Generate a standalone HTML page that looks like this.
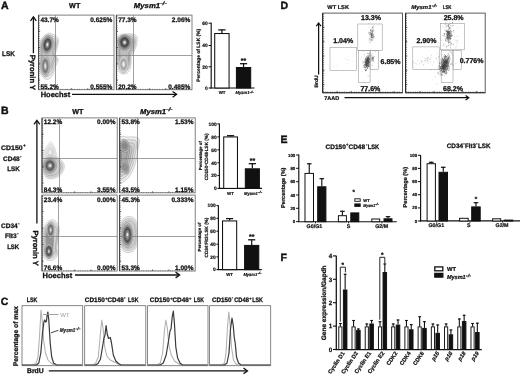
<!DOCTYPE html>
<html><head><meta charset="utf-8"><title>Figure</title>
<style>html,body{margin:0;padding:0;background:#fff}svg{display:block}</style></head><body>
<svg width="520" height="376" viewBox="0 0 520 376" font-family="Liberation Sans, sans-serif" text-rendering="geometricPrecision">
<defs>
<filter id="b0_5" x="-20%" y="-20%" width="140%" height="140%"><feGaussianBlur stdDeviation="0.5"/></filter>
<filter id="b0_3" x="-20%" y="-20%" width="140%" height="140%"><feGaussianBlur stdDeviation="0.3"/></filter>
<filter id="b0_8" x="-20%" y="-20%" width="140%" height="140%"><feGaussianBlur stdDeviation="0.8"/></filter>
</defs>
<rect x="0" y="0" width="520" height="376" fill="#fff"/>

<text x="1" y="8.9" font-size="10.5" font-weight="bold" text-anchor="start" fill="#111" stroke="#111" stroke-width="0.42" >A</text>
<text x="74.7" y="8.1" font-size="7.2" font-weight="bold" text-anchor="middle" fill="#111" stroke="#111" stroke-width="0.29" >WT</text>
<text x="133.8" y="8.1" font-size="7.2" font-weight="bold" text-anchor="start" fill="#111" stroke="#111" stroke-width="0.29" font-style="italic" textLength="26.3" lengthAdjust="spacingAndGlyphs" >Mysm1</text>
<text x="160.3" y="5.219999999999999" font-size="5.04" font-weight="bold" text-anchor="start" fill="#111" stroke="#111" stroke-width="0.20" font-style="italic" textLength="6.5" lengthAdjust="spacingAndGlyphs" >-/-</text>
<text x="2" y="55.9" font-size="6.9" font-weight="bold" text-anchor="start" fill="#111" stroke="#111" stroke-width="0.28" textLength="12.8" lengthAdjust="spacingAndGlyphs" >LSK</text>
<g filter="url(#b0_5)">
<path d="M48.7,33.2C50.8,33.0 53.8,34.5 55.4,35.5C57.0,36.5 58.3,37.5 58.6,39.5C58.9,41.5 57.9,45.0 57.4,47.5C56.9,50.0 55.3,52.4 55.4,54.5C55.5,56.6 58.2,58.0 58.2,60.0C58.2,62.0 56.4,64.2 55.4,66.8C54.4,69.4 53.9,73.7 52.4,75.8C50.9,77.9 48.4,80.0 46.4,79.5C44.4,79.0 41.3,76.6 40.2,73.0C39.1,69.4 40.0,63.0 40.0,58.0C40.0,53.0 39.5,46.5 40.0,43.0C40.5,39.5 41.2,38.6 42.7,37.0C44.2,35.4 46.6,33.5 48.7,33.2Z" fill="rgb(236,236,236)" stroke="rgb(170,170,170)" stroke-width="0.45"/>
<path d="M48.5,35.0C50.4,34.8 53.0,36.1 54.5,37.0C55.9,38.0 57.0,38.8 57.3,40.6C57.6,42.4 56.7,45.5 56.2,47.8C55.8,50.0 54.3,52.2 54.5,54.0C54.6,55.9 57.0,57.1 57.0,58.9C57.0,60.8 55.3,62.7 54.5,65.0C53.6,67.4 53.1,71.2 51.8,73.0C50.4,74.9 48.2,76.8 46.4,76.4C44.6,75.9 41.8,73.7 40.9,70.5C39.9,67.3 40.7,61.6 40.7,57.1C40.7,52.7 40.3,46.9 40.7,43.7C41.1,40.6 41.8,39.8 43.1,38.4C44.4,36.9 46.6,35.2 48.5,35.0Z" fill="rgb(224,224,224)" stroke="rgb(153,153,153)" stroke-width="0.45"/>
<path d="M48.2,36.8C49.9,36.6 52.2,37.8 53.5,38.6C54.8,39.4 55.8,40.2 56.0,41.7C56.3,43.3 55.5,46.1 55.1,48.0C54.7,50.0 53.4,51.9 53.5,53.5C53.6,55.2 55.7,56.3 55.7,57.9C55.7,59.5 54.3,61.1 53.5,63.2C52.7,65.3 52.3,68.6 51.1,70.3C50.0,72.0 48.0,73.6 46.4,73.2C44.8,72.8 42.4,70.9 41.5,68.1C40.7,65.3 41.4,60.2 41.4,56.3C41.4,52.4 41.0,47.2 41.4,44.5C41.7,41.7 42.4,41.1 43.5,39.8C44.7,38.5 46.6,37.0 48.2,36.8Z" fill="rgb(212,212,212)" stroke="rgb(136,136,136)" stroke-width="0.45"/>
<path d="M48.0,38.6C49.4,38.4 51.4,39.4 52.6,40.1C53.7,40.9 54.5,41.5 54.7,42.9C55.0,44.2 54.3,46.6 53.9,48.3C53.5,50.0 52.5,51.6 52.6,53.1C52.6,54.5 54.5,55.4 54.5,56.8C54.5,58.2 53.2,59.6 52.6,61.4C51.9,63.2 51.5,66.1 50.5,67.5C49.5,69.0 47.8,70.4 46.4,70.1C45.0,69.7 42.9,68.1 42.2,65.6C41.5,63.2 42.1,58.8 42.1,55.4C42.1,52.0 41.8,47.6 42.1,45.2C42.4,42.9 42.9,42.3 43.9,41.2C44.9,40.0 46.6,38.7 48.0,38.6Z" fill="rgb(200,200,200)" stroke="rgb(120,120,120)" stroke-width="0.45"/>
<ellipse cx="47.40" cy="44.60" rx="5.60" ry="9.60" fill="rgb(190,190,190)" stroke="rgb(120,120,120)" stroke-width="0.4" opacity="1" transform="rotate(8 47.4 44.6)" />
<ellipse cx="47.40" cy="44.60" rx="4.59" ry="7.87" fill="rgb(145,145,145)" stroke="rgb(110,110,110)" stroke-width="0.4" opacity="1" transform="rotate(8 47.4 44.6)" />
<ellipse cx="47.40" cy="44.60" rx="3.47" ry="5.95" fill="rgb(80,80,80)" stroke="rgb(55,55,55)" stroke-width="0.4" opacity="1" transform="rotate(8 47.4 44.6)" />
<ellipse cx="47.40" cy="44.60" rx="2.24" ry="3.84" fill="rgb(125,125,125)" stroke="rgb(80,80,80)" stroke-width="0.4" opacity="1" transform="rotate(8 47.4 44.6)" />
<ellipse cx="47.40" cy="44.60" rx="1.12" ry="1.92" fill="rgb(235,235,235)" stroke="rgb(140,140,140)" stroke-width="0.4" opacity="1" transform="rotate(8 47.4 44.6)" />
<ellipse cx="45.30" cy="66.00" rx="4.30" ry="11.00" fill="rgb(200,200,200)" stroke="rgb(130,130,130)" stroke-width="0.4" opacity="1" />
<ellipse cx="45.30" cy="66.00" rx="3.53" ry="9.02" fill="rgb(172,172,172)" stroke="rgb(155,155,155)" stroke-width="0.4" opacity="1" />
<ellipse cx="45.30" cy="66.00" rx="2.67" ry="6.82" fill="rgb(125,125,125)" stroke="rgb(100,100,100)" stroke-width="0.4" opacity="1" />
<ellipse cx="45.30" cy="66.00" rx="1.72" ry="4.40" fill="rgb(170,170,170)" stroke="rgb(125,125,125)" stroke-width="0.4" opacity="1" />
<ellipse cx="45.30" cy="66.00" rx="0.86" ry="2.20" fill="rgb(235,235,235)" stroke="rgb(185,185,185)" stroke-width="0.4" opacity="1" />
<path d="M124.0,34.0C126.0,33.7 129.0,33.5 131.0,33.8C133.0,34.0 134.9,34.5 136.0,35.5C137.1,36.5 137.3,38.1 137.3,40.0C137.3,41.9 136.6,44.9 136.0,47.0C135.4,49.1 134.3,50.8 133.5,52.5C132.7,54.2 131.6,55.2 131.2,57.5C130.8,59.8 131.2,63.6 130.8,66.0C130.4,68.4 129.6,70.7 128.5,72.0C127.4,73.3 125.5,74.0 124.0,74.0C122.5,74.0 120.6,74.0 119.5,72.0C118.4,70.0 117.9,65.7 117.6,62.0C117.2,58.3 117.4,53.7 117.4,50.0C117.4,46.3 117.1,42.4 117.4,40.0C117.7,37.6 117.9,36.5 119.0,35.5C120.1,34.5 122.0,34.3 124.0,34.0Z" fill="rgb(236,236,236)" stroke="rgb(165,165,165)" stroke-width="0.45"/>
<path d="M124.1,35.4C125.8,35.1 128.5,35.0 130.3,35.2C132.0,35.4 133.8,35.8 134.7,36.7C135.6,37.6 135.8,39.0 135.8,40.7C135.8,42.4 135.3,45.0 134.7,46.9C134.1,48.7 133.2,50.2 132.5,51.8C131.8,53.3 130.8,54.2 130.4,56.2C130.0,58.2 130.5,61.6 130.1,63.7C129.7,65.9 129.1,67.9 128.0,69.1C127.0,70.2 125.4,70.8 124.1,70.8C122.7,70.8 121.0,70.8 120.1,69.1C119.1,67.3 118.7,63.4 118.4,60.2C118.1,56.9 118.2,52.8 118.2,49.5C118.2,46.3 118.0,42.8 118.2,40.7C118.4,38.5 118.6,37.6 119.6,36.7C120.6,35.8 122.3,35.6 124.1,35.4Z" fill="rgb(220,220,220)" stroke="rgb(146,146,146)" stroke-width="0.45"/>
<path d="M124.1,36.7C125.7,36.5 128.0,36.4 129.5,36.6C131.1,36.8 132.6,37.1 133.4,37.9C134.2,38.7 134.4,39.9 134.4,41.4C134.4,42.8 133.9,45.2 133.4,46.8C132.9,48.4 132.1,49.7 131.5,51.0C130.8,52.4 130.0,53.2 129.7,54.9C129.3,56.6 129.7,59.6 129.4,61.5C129.0,63.3 128.5,65.1 127.6,66.1C126.7,67.1 125.3,67.7 124.1,67.7C123.0,67.7 121.5,67.7 120.6,66.1C119.8,64.6 119.4,61.2 119.2,58.4C118.9,55.5 119.0,51.9 119.0,49.1C119.0,46.3 118.8,43.2 119.0,41.4C119.2,39.5 119.4,38.7 120.2,37.9C121.1,37.1 122.6,36.9 124.1,36.7Z" fill="rgb(205,205,205)" stroke="rgb(128,128,128)" stroke-width="0.45"/>
<path d="M124.2,38.1C125.5,37.9 127.5,37.8 128.8,37.9C130.1,38.1 131.4,38.4 132.1,39.1C132.8,39.8 132.9,40.8 132.9,42.0C132.9,43.3 132.5,45.3 132.1,46.7C131.7,48.0 131.0,49.1 130.4,50.3C129.9,51.4 129.2,52.1 128.9,53.6C128.6,55.1 129.0,57.6 128.7,59.2C128.4,60.8 127.9,62.3 127.1,63.2C126.4,64.0 125.2,64.5 124.2,64.5C123.2,64.5 121.9,64.5 121.2,63.2C120.5,61.8 120.2,59.0 119.9,56.6C119.7,54.1 119.8,51.1 119.8,48.6C119.8,46.2 119.6,43.6 119.8,42.0C120.0,40.4 120.1,39.7 120.9,39.1C121.6,38.4 122.9,38.3 124.2,38.1Z" fill="rgb(190,190,190)" stroke="rgb(110,110,110)" stroke-width="0.45"/>
<ellipse cx="124.60" cy="42.40" rx="6.60" ry="7.80" fill="rgb(175,175,175)" stroke="rgb(105,105,105)" stroke-width="0.4" opacity="1" />
<ellipse cx="124.60" cy="42.40" rx="5.41" ry="6.40" fill="rgb(135,135,135)" stroke="rgb(105,105,105)" stroke-width="0.4" opacity="1" />
<ellipse cx="124.60" cy="42.40" rx="4.09" ry="4.84" fill="rgb(75,75,75)" stroke="rgb(50,50,50)" stroke-width="0.4" opacity="1" />
<ellipse cx="124.60" cy="42.40" rx="2.64" ry="3.12" fill="rgb(120,120,120)" stroke="rgb(75,75,75)" stroke-width="0.4" opacity="1" />
<ellipse cx="124.60" cy="42.40" rx="1.32" ry="1.56" fill="rgb(235,235,235)" stroke="rgb(135,135,135)" stroke-width="0.4" opacity="1" />
<ellipse cx="123.60" cy="64.30" rx="4.60" ry="8.60" fill="rgb(215,215,215)" stroke="rgb(145,145,145)" stroke-width="0.4" opacity="1" />
<ellipse cx="123.60" cy="64.30" rx="3.77" ry="7.05" fill="rgb(200,200,200)" stroke="rgb(195,195,195)" stroke-width="0.4" opacity="1" />
<ellipse cx="123.60" cy="64.30" rx="2.85" ry="5.33" fill="rgb(165,165,165)" stroke="rgb(140,140,140)" stroke-width="0.4" opacity="1" />
<ellipse cx="123.60" cy="64.30" rx="1.84" ry="3.44" fill="rgb(210,210,210)" stroke="rgb(165,165,165)" stroke-width="0.4" opacity="1" />
<ellipse cx="123.60" cy="64.30" rx="0.92" ry="1.72" fill="rgb(240,240,240)" stroke="rgb(225,225,225)" stroke-width="0.4" opacity="1" />
</g>
<rect x="38.60" y="15.10" width="75.40" height="74.60" fill="none" stroke="#6c6c6c" stroke-width="0.85" />
<line x1="55.5" y1="15.1" x2="55.5" y2="89.7" stroke="#777" stroke-width="0.7" />
<line x1="38.6" y1="55.5" x2="114" y2="55.5" stroke="#777" stroke-width="0.7" />
<line x1="38.6" y1="15.1" x2="38.6" y2="89.7" stroke="#3a3a3a" stroke-width="0.9" />
<line x1="39.1" y1="16.1" x2="39.1" y2="89.7" stroke="#444" stroke-width="1.4" stroke-dasharray="0.5 1.7"/>
<line x1="38.6" y1="89.4" x2="113" y2="89.4" stroke="#555" stroke-width="1.1" stroke-dasharray="0.5 1.9"/>
<line x1="38.6" y1="31.31739130434783" x2="40.2" y2="31.31739130434783" stroke="#222" stroke-width="0.6" />
<line x1="54.99130434782609" y1="89.7" x2="54.99130434782609" y2="88.10000000000001" stroke="#222" stroke-width="0.6" />
<line x1="38.6" y1="47.53478260869566" x2="40.2" y2="47.53478260869566" stroke="#222" stroke-width="0.6" />
<line x1="71.38260869565218" y1="89.7" x2="71.38260869565218" y2="88.10000000000001" stroke="#222" stroke-width="0.6" />
<line x1="38.6" y1="63.752173913043485" x2="40.2" y2="63.752173913043485" stroke="#222" stroke-width="0.6" />
<line x1="87.77391304347827" y1="89.7" x2="87.77391304347827" y2="88.10000000000001" stroke="#222" stroke-width="0.6" />
<line x1="38.6" y1="79.9695652173913" x2="40.2" y2="79.9695652173913" stroke="#222" stroke-width="0.6" />
<line x1="104.16521739130437" y1="89.7" x2="104.16521739130437" y2="88.10000000000001" stroke="#222" stroke-width="0.6" />
<text x="40.4" y="21.6" font-size="6.5" font-weight="bold" text-anchor="start" fill="#111" stroke="#111" stroke-width="0.26" >43.7%</text>
<text x="112.3" y="21.6" font-size="6.5" font-weight="bold" text-anchor="end" fill="#111" stroke="#111" stroke-width="0.26" >0.625%</text>
<text x="40.4" y="88.7" font-size="6.5" font-weight="bold" text-anchor="start" fill="#111" stroke="#111" stroke-width="0.26" >55.2%</text>
<text x="112.3" y="88.7" font-size="6.5" font-weight="bold" text-anchor="end" fill="#111" stroke="#111" stroke-width="0.26" >0.555%</text>
<rect x="116.40" y="15.10" width="75.60" height="74.60" fill="none" stroke="#6c6c6c" stroke-width="0.85" />
<line x1="133.5" y1="15.1" x2="133.5" y2="89.7" stroke="#777" stroke-width="0.7" />
<line x1="116.4" y1="55.5" x2="192" y2="55.5" stroke="#777" stroke-width="0.7" />
<line x1="116.4" y1="15.1" x2="116.4" y2="89.7" stroke="#3a3a3a" stroke-width="0.9" />
<line x1="116.9" y1="16.1" x2="116.9" y2="89.7" stroke="#444" stroke-width="1.4" stroke-dasharray="0.5 1.7"/>
<line x1="116.4" y1="89.4" x2="191" y2="89.4" stroke="#555" stroke-width="1.1" stroke-dasharray="0.5 1.9"/>
<line x1="116.4" y1="31.31739130434783" x2="118.0" y2="31.31739130434783" stroke="#222" stroke-width="0.6" />
<line x1="132.83478260869566" y1="89.7" x2="132.83478260869566" y2="88.10000000000001" stroke="#222" stroke-width="0.6" />
<line x1="116.4" y1="47.53478260869566" x2="118.0" y2="47.53478260869566" stroke="#222" stroke-width="0.6" />
<line x1="149.26956521739132" y1="89.7" x2="149.26956521739132" y2="88.10000000000001" stroke="#222" stroke-width="0.6" />
<line x1="116.4" y1="63.752173913043485" x2="118.0" y2="63.752173913043485" stroke="#222" stroke-width="0.6" />
<line x1="165.70434782608697" y1="89.7" x2="165.70434782608697" y2="88.10000000000001" stroke="#222" stroke-width="0.6" />
<line x1="116.4" y1="79.9695652173913" x2="118.0" y2="79.9695652173913" stroke="#222" stroke-width="0.6" />
<line x1="182.1391304347826" y1="89.7" x2="182.1391304347826" y2="88.10000000000001" stroke="#222" stroke-width="0.6" />
<text x="118.2" y="21.6" font-size="6.5" font-weight="bold" text-anchor="start" fill="#111" stroke="#111" stroke-width="0.26" >77.3%</text>
<text x="190.3" y="21.6" font-size="6.5" font-weight="bold" text-anchor="end" fill="#111" stroke="#111" stroke-width="0.26" >2.06%</text>
<text x="118.2" y="88.7" font-size="6.5" font-weight="bold" text-anchor="start" fill="#111" stroke="#111" stroke-width="0.26" >20.2%</text>
<text x="190.3" y="88.7" font-size="6.5" font-weight="bold" text-anchor="end" fill="#111" stroke="#111" stroke-width="0.26" >0.485%</text>
<line x1="33.4" y1="53.2" x2="33.4" y2="17.3" stroke="#111" stroke-width="1.3" />
<polyline points="30.52,20.80 33.4,16.8 36.28,20.80" fill="none" stroke="#111" stroke-width="1.3" stroke-linejoin="miter"/>
<text x="30.1" y="54.8" font-size="7.6" font-weight="bold" text-anchor="start" fill="#111" stroke="#111" stroke-width="0.30" transform="rotate(90 30.1 54.8)" >Pyronin Y</text>
<text x="40.7" y="96.9" font-size="7.5" font-weight="bold" text-anchor="start" fill="#111" stroke="#111" stroke-width="0.30" >Hoechst</text>
<line x1="72" y1="94.3" x2="176.1" y2="94.3" stroke="#111" stroke-width="1.3" />
<polyline points="172.60,91.42 176.6,94.3 172.60,97.18" fill="none" stroke="#111" stroke-width="1.3" stroke-linejoin="miter"/>
<line x1="211.2" y1="22.8" x2="211.2" y2="88.4" stroke="#111" stroke-width="1.15" />
<line x1="208.6" y1="23.2" x2="211.2" y2="23.2" stroke="#111" stroke-width="1.035" />
<text x="207.79999999999998" y="24.964" font-size="4.9" font-weight="bold" text-anchor="end" fill="#111" stroke="#111" stroke-width="0.20" >60</text>
<line x1="208.6" y1="45.5" x2="211.2" y2="45.5" stroke="#111" stroke-width="1.035" />
<text x="207.79999999999998" y="47.264" font-size="4.9" font-weight="bold" text-anchor="end" fill="#111" stroke="#111" stroke-width="0.20" >40</text>
<line x1="208.6" y1="66.8" x2="211.2" y2="66.8" stroke="#111" stroke-width="1.035" />
<text x="207.79999999999998" y="68.564" font-size="4.9" font-weight="bold" text-anchor="end" fill="#111" stroke="#111" stroke-width="0.20" >20</text>
<line x1="208.6" y1="88" x2="211.2" y2="88" stroke="#111" stroke-width="1.035" />
<text x="207.79999999999998" y="89.764" font-size="4.9" font-weight="bold" text-anchor="end" fill="#111" stroke="#111" stroke-width="0.20" >0</text>
<line x1="210.5" y1="88" x2="254.5" y2="88" stroke="#111" stroke-width="1.15" />
<rect x="214.72" y="33.52" width="14.35" height="54.48" fill="#fff" stroke="#111" stroke-width="1.05" />
<line x1="221.89999999999998" y1="33" x2="221.89999999999998" y2="29.375" stroke="#111" stroke-width="1.2075" />
<line x1="218.2" y1="29.9" x2="225.59999999999997" y2="29.9" stroke="#111" stroke-width="1.26" />
<rect x="236.43" y="67.53" width="14.25" height="20.48" fill="#111" stroke="#111" stroke-width="1.05" />
<line x1="243.55" y1="67" x2="243.55" y2="63.175000000000004" stroke="#111" stroke-width="1.2075" />
<line x1="239.95000000000002" y1="63.7" x2="247.15" y2="63.7" stroke="#111" stroke-width="1.26" />
<text x="243.4" y="62.8" font-size="6.9" font-weight="bold" text-anchor="middle" fill="#111" stroke="#111" stroke-width="0.28" >**</text>
<text x="222.1" y="94.3" font-size="4.4" font-weight="bold" text-anchor="middle" fill="#111" stroke="#111" stroke-width="0.20" >WT</text>
<text x="235.6" y="94.3" font-size="4.4" font-weight="bold" text-anchor="start" fill="#111" stroke="#111" stroke-width="0.20" font-style="italic" textLength="13.8" lengthAdjust="spacingAndGlyphs" >Mysm1</text>
<text x="249.6" y="92.53999999999999" font-size="3.08" font-weight="bold" text-anchor="start" fill="#111" stroke="#111" stroke-width="0.20" font-style="italic" textLength="4.2" lengthAdjust="spacingAndGlyphs" >-/-</text>
<text x="200" y="55.2" font-size="4.95" font-weight="bold" text-anchor="middle" fill="#111" stroke="#111" stroke-width="0.20" transform="rotate(-90 200 55.2)" >Percentage of LSK (%)</text>
<text x="1" y="114" font-size="10.5" font-weight="bold" text-anchor="start" fill="#111" stroke="#111" stroke-width="0.42" >B</text>
<text x="77.8" y="113.9" font-size="7.2" font-weight="bold" text-anchor="middle" fill="#111" stroke="#111" stroke-width="0.29" >WT</text>
<text x="140" y="113.7" font-size="7.2" font-weight="bold" text-anchor="start" fill="#111" stroke="#111" stroke-width="0.29" font-style="italic" textLength="26" lengthAdjust="spacingAndGlyphs" >Mysm1</text>
<text x="166.2" y="110.82000000000001" font-size="5.04" font-weight="bold" text-anchor="start" fill="#111" stroke="#111" stroke-width="0.20" font-style="italic" textLength="6.4" lengthAdjust="spacingAndGlyphs" >-/-</text>
<text x="1" y="150" font-size="6.6" font-weight="bold" text-anchor="start" fill="#111" stroke="#111" stroke-width="0.26" textLength="21.7" lengthAdjust="spacingAndGlyphs" >CD150</text>
<text x="23" y="147.3" font-size="4.6" font-weight="bold" text-anchor="start" fill="#111" stroke="#111" stroke-width="0.20" >+</text>
<text x="3" y="160.7" font-size="6.6" font-weight="bold" text-anchor="start" fill="#111" stroke="#111" stroke-width="0.26" textLength="16.7" lengthAdjust="spacingAndGlyphs" >CD48</text>
<text x="20" y="157.6" font-size="4.6" font-weight="bold" text-anchor="start" fill="#111" stroke="#111" stroke-width="0.20" >-</text>
<text x="7.2" y="170.6" font-size="6.6" font-weight="bold" text-anchor="start" fill="#111" stroke="#111" stroke-width="0.26" textLength="12.5" lengthAdjust="spacingAndGlyphs" >LSK</text>
<text x="1" y="227.6" font-size="6.6" font-weight="bold" text-anchor="start" fill="#111" stroke="#111" stroke-width="0.26" textLength="16.7" lengthAdjust="spacingAndGlyphs" >CD34</text>
<text x="18" y="224.5" font-size="4.6" font-weight="bold" text-anchor="start" fill="#111" stroke="#111" stroke-width="0.20" >-</text>
<text x="5" y="238.1" font-size="6.6" font-weight="bold" text-anchor="start" fill="#111" stroke="#111" stroke-width="0.26" textLength="11.7" lengthAdjust="spacingAndGlyphs" >Flt3</text>
<text x="17" y="235" font-size="4.6" font-weight="bold" text-anchor="start" fill="#111" stroke="#111" stroke-width="0.20" >-</text>
<text x="7.2" y="249.1" font-size="6.6" font-weight="bold" text-anchor="start" fill="#111" stroke="#111" stroke-width="0.26" textLength="12" lengthAdjust="spacingAndGlyphs" >LSK</text>
<g filter="url(#b0_5)">
<path d="M50.8,141.8C52.0,141.8 53.1,144.3 54.0,146.0C54.9,147.7 55.6,150.0 56.0,152.0C56.4,154.0 57.5,156.7 56.5,158.0C55.5,159.3 52.2,160.0 50.0,160.0C47.8,160.0 44.5,159.5 43.5,158.0C42.5,156.5 43.4,153.0 44.0,151.0C44.6,149.0 45.9,147.5 47.0,146.0C48.1,144.5 49.6,141.8 50.8,141.8Z" fill="rgb(246,246,246)" stroke="rgb(185,185,185)" stroke-width="0.4"/>
<path d="M50.7,144.0C51.6,144.0 52.5,146.0 53.2,147.3C53.9,148.6 54.4,150.4 54.8,152.0C55.1,153.6 55.9,155.7 55.2,156.7C54.4,157.7 51.8,158.3 50.1,158.3C48.4,158.3 45.8,157.9 45.0,156.7C44.2,155.5 44.9,152.8 45.4,151.2C45.8,149.7 46.8,148.5 47.7,147.3C48.6,146.1 49.8,144.0 50.7,144.0Z" fill="rgb(243,243,243)" stroke="rgb(173,173,173)" stroke-width="0.4"/>
<path d="M50.6,146.2C51.2,146.2 51.9,147.6 52.4,148.6C52.9,149.6 53.3,150.9 53.5,152.0C53.8,153.1 54.4,154.6 53.8,155.4C53.2,156.2 51.4,156.5 50.1,156.5C48.9,156.5 47.0,156.2 46.4,155.4C45.9,154.6 46.4,152.6 46.7,151.4C47.1,150.3 47.8,149.5 48.4,148.6C49.1,147.7 49.9,146.2 50.6,146.2Z" fill="rgb(240,240,240)" stroke="rgb(161,161,161)" stroke-width="0.4"/>
<path d="M50.5,148.4C50.9,148.4 51.3,149.3 51.6,149.9C51.9,150.5 52.1,151.3 52.3,152.0C52.4,152.7 52.8,153.6 52.5,154.1C52.1,154.6 51.0,154.8 50.2,154.8C49.4,154.8 48.3,154.6 47.9,154.1C47.6,153.6 47.9,152.3 48.1,151.7C48.3,151.0 48.7,150.4 49.1,149.9C49.5,149.4 50.1,148.4 50.5,148.4Z" fill="rgb(238,238,238)" stroke="rgb(150,150,150)" stroke-width="0.4"/>
<path d="M50.0,155.5C52.3,155.3 55.8,156.2 58.0,157.5C60.2,158.8 62.5,161.1 63.5,163.0C64.5,164.9 64.6,166.9 64.0,169.0C63.4,171.1 62.0,173.9 60.0,175.5C58.0,177.1 54.5,178.6 52.0,178.8C49.5,179.0 46.5,178.5 45.0,176.5C43.5,174.5 43.0,170.0 42.8,167.0C42.6,164.0 42.8,160.4 44.0,158.5C45.2,156.6 47.7,155.7 50.0,155.5Z" fill="rgb(232,232,232)" stroke="rgb(175,175,175)" stroke-width="0.45"/>
<path d="M50.1,156.8C52.1,156.6 55.1,157.4 57.1,158.5C59.1,159.6 61.1,161.7 61.9,163.4C62.8,165.0 62.9,166.8 62.4,168.6C61.9,170.5 60.6,172.9 58.9,174.4C57.1,175.8 54.0,177.1 51.8,177.3C49.6,177.4 47.0,177.0 45.7,175.2C44.3,173.5 43.9,169.5 43.7,166.9C43.6,164.2 43.7,161.1 44.8,159.4C45.8,157.7 48.0,156.9 50.1,156.8Z" fill="rgb(218,218,218)" stroke="rgb(155,155,155)" stroke-width="0.45"/>
<path d="M50.1,158.0C51.9,157.9 54.5,158.6 56.2,159.5C57.9,160.5 59.6,162.3 60.4,163.7C61.1,165.2 61.2,166.7 60.8,168.3C60.3,169.9 59.2,172.0 57.7,173.2C56.2,174.5 53.5,175.6 51.6,175.7C49.7,175.9 47.5,175.5 46.3,174.0C45.2,172.5 44.8,169.0 44.6,166.8C44.5,164.5 44.6,161.8 45.6,160.3C46.5,158.8 48.3,158.1 50.1,158.0Z" fill="rgb(205,205,205)" stroke="rgb(135,135,135)" stroke-width="0.45"/>
<ellipse cx="50.00" cy="165.60" rx="6.60" ry="8.00" fill="rgb(190,190,190)" stroke="rgb(120,120,120)" stroke-width="0.4" opacity="1" />
<ellipse cx="50.00" cy="165.60" rx="5.41" ry="6.56" fill="rgb(152,152,152)" stroke="rgb(125,125,125)" stroke-width="0.4" opacity="1" />
<ellipse cx="50.00" cy="165.60" rx="4.09" ry="4.96" fill="rgb(95,95,95)" stroke="rgb(70,70,70)" stroke-width="0.4" opacity="1" />
<ellipse cx="50.00" cy="165.60" rx="2.64" ry="3.20" fill="rgb(140,140,140)" stroke="rgb(95,95,95)" stroke-width="0.4" opacity="1" />
<ellipse cx="50.00" cy="165.60" rx="1.32" ry="1.60" fill="rgb(235,235,235)" stroke="rgb(155,155,155)" stroke-width="0.4" opacity="1" />
<path d="M120.0,137.5C121.4,135.3 125.3,137.1 128.0,137.0C130.7,136.9 134.1,136.7 136.0,137.2C137.9,137.7 138.9,138.4 139.3,140.0C139.7,141.6 138.9,144.5 138.5,147.0C138.1,149.5 137.5,152.3 137.0,155.0C136.5,157.7 136.2,160.5 135.5,163.0C134.8,165.5 134.1,167.7 133.0,170.0C131.9,172.3 130.5,175.1 129.0,177.0C127.5,178.9 125.5,180.6 124.0,181.5C122.5,182.4 120.7,184.4 120.0,182.5C119.3,180.6 119.8,175.4 119.8,170.0C119.8,164.6 119.8,155.4 119.8,150.0C119.8,144.6 118.6,139.7 120.0,137.5Z" fill="rgb(236,236,236)" stroke="rgb(165,165,165)" stroke-width="0.45"/>
<path d="M120.3,140.4C121.5,138.5 124.9,140.0 127.2,139.9C129.5,139.9 132.4,139.7 134.0,140.1C135.7,140.5 136.5,141.1 136.9,142.5C137.2,143.9 136.5,146.4 136.2,148.5C135.9,150.7 135.3,153.1 134.9,155.4C134.5,157.7 134.2,160.2 133.6,162.3C133.0,164.5 132.4,166.3 131.5,168.3C130.5,170.3 129.3,172.7 128.0,174.3C126.7,176.0 125.0,177.4 123.7,178.2C122.4,179.0 120.9,180.7 120.3,179.1C119.7,177.4 120.1,173.0 120.1,168.3C120.1,163.7 120.1,155.8 120.1,151.1C120.1,146.5 119.1,142.2 120.3,140.4Z" fill="rgb(222,222,222)" stroke="rgb(153,153,153)" stroke-width="0.45"/>
<path d="M120.6,143.2C121.5,141.7 124.4,142.9 126.3,142.9C128.2,142.8 130.7,142.7 132.1,143.0C133.4,143.4 134.2,143.9 134.5,145.0C134.8,146.2 134.2,148.3 133.9,150.1C133.6,151.9 133.2,153.9 132.8,155.8C132.4,157.8 132.2,159.8 131.7,161.6C131.2,163.4 130.7,165.0 129.9,166.6C129.1,168.3 128.1,170.3 127.0,171.7C126.0,173.1 124.5,174.3 123.4,174.9C122.4,175.6 121.1,177.0 120.6,175.6C120.1,174.3 120.4,170.5 120.4,166.6C120.4,162.7 120.4,156.1 120.4,152.2C120.4,148.3 119.6,144.8 120.6,143.2Z" fill="rgb(209,209,209)" stroke="rgb(141,141,141)" stroke-width="0.45"/>
<path d="M120.8,146.1C121.6,144.9 123.9,145.8 125.5,145.8C127.0,145.8 129.0,145.6 130.1,145.9C131.2,146.2 131.8,146.6 132.0,147.6C132.3,148.5 131.8,150.2 131.6,151.6C131.3,153.1 131.0,154.7 130.7,156.3C130.4,157.8 130.2,159.4 129.8,160.9C129.4,162.4 129.0,163.6 128.4,165.0C127.8,166.3 126.9,167.9 126.1,169.0C125.2,170.1 124.0,171.1 123.2,171.6C122.3,172.2 121.2,173.3 120.8,172.2C120.4,171.1 120.7,168.1 120.7,165.0C120.7,161.8 120.7,156.5 120.7,153.4C120.7,150.2 120.0,147.4 120.8,146.1Z" fill="rgb(196,196,196)" stroke="rgb(129,129,129)" stroke-width="0.45"/>
<path d="M121.1,149.0C121.7,148.0 123.5,148.8 124.6,148.8C125.8,148.7 127.3,148.6 128.2,148.8C129.0,149.1 129.4,149.4 129.6,150.1C129.8,150.8 129.4,152.1 129.3,153.2C129.1,154.3 128.8,155.5 128.6,156.7C128.4,157.9 128.2,159.1 127.9,160.2C127.6,161.3 127.3,162.3 126.8,163.3C126.4,164.3 125.7,165.5 125.1,166.4C124.4,167.2 123.5,167.9 122.9,168.3C122.2,168.7 121.4,169.6 121.1,168.8C120.8,167.9 121.0,165.7 121.0,163.3C121.0,160.9 121.0,156.9 121.0,154.5C121.0,152.1 120.5,149.9 121.1,149.0Z" fill="rgb(183,183,183)" stroke="rgb(117,117,117)" stroke-width="0.45"/>
<path d="M121.4,151.8C121.8,151.2 123.0,151.7 123.8,151.7C124.6,151.7 125.6,151.6 126.2,151.8C126.8,151.9 127.1,152.1 127.2,152.6C127.3,153.1 127.1,153.9 127.0,154.7C126.8,155.4 126.7,156.3 126.5,157.1C126.3,157.9 126.2,158.8 126.0,159.5C125.8,160.2 125.6,160.9 125.3,161.6C125.0,162.3 124.5,163.1 124.1,163.7C123.6,164.3 123.0,164.8 122.6,165.1C122.1,165.3 121.6,165.9 121.4,165.3C121.2,164.8 121.4,163.2 121.3,161.6C121.3,160.0 121.3,157.2 121.3,155.6C121.4,154.0 121.0,152.5 121.4,151.8Z" fill="rgb(170,170,170)" stroke="rgb(105,105,105)" stroke-width="0.45"/>
<path d="M129.3,144.8C129.6,145.9 129.7,147.1 129.6,148.1C129.5,149.1 129.1,150.2 128.6,150.9C128.1,151.5 127.4,152.1 126.7,152.3C126.0,152.5 125.1,152.4 124.3,152.0C123.5,151.7 122.7,151.0 122.1,150.1C121.5,149.3 120.9,148.2 120.7,147.2C120.4,146.1 120.3,144.9 120.4,143.9C120.5,142.9 120.9,141.8 121.4,141.1C121.9,140.5 122.6,139.9 123.3,139.7C124.0,139.5 124.9,139.6 125.7,140.0C126.5,140.3 127.3,141.0 127.9,141.9C128.5,142.7 129.1,143.8 129.3,144.8Z" fill="rgb(178,178,178)" stroke="rgb(120,120,120)" stroke-width="0.4"/>
<path d="M127.9,145.2C128.1,145.9 128.2,146.8 128.1,147.5C128.0,148.2 127.7,148.9 127.4,149.4C127.1,149.9 126.5,150.3 126.0,150.4C125.5,150.5 124.9,150.5 124.3,150.2C123.8,150.0 123.2,149.5 122.8,148.9C122.4,148.3 122.0,147.5 121.8,146.8C121.6,146.1 121.5,145.2 121.6,144.5C121.7,143.8 122.0,143.1 122.3,142.6C122.6,142.1 123.2,141.7 123.7,141.6C124.2,141.5 124.8,141.5 125.4,141.8C125.9,142.0 126.5,142.5 126.9,143.1C127.3,143.7 127.7,144.5 127.9,145.2Z" fill="rgb(159,159,159)" stroke="rgb(105,105,105)" stroke-width="0.4"/>
<path d="M126.4,145.5C126.6,146.0 126.6,146.5 126.5,146.9C126.5,147.3 126.3,147.7 126.2,147.9C126.0,148.2 125.7,148.4 125.4,148.5C125.1,148.6 124.7,148.5 124.4,148.4C124.1,148.3 123.8,148.0 123.5,147.7C123.3,147.3 123.1,146.9 123.0,146.5C122.8,146.0 122.8,145.5 122.9,145.1C122.9,144.7 123.1,144.3 123.2,144.1C123.4,143.8 123.7,143.6 124.0,143.5C124.3,143.4 124.7,143.5 125.0,143.6C125.3,143.7 125.6,144.0 125.9,144.3C126.1,144.7 126.3,145.1 126.4,145.5Z" fill="rgb(140,140,140)" stroke="rgb(90,90,90)" stroke-width="0.4"/>
<path d="M128.7,166.0C129.0,167.2 129.2,168.6 129.1,169.8C129.1,170.9 128.9,172.0 128.5,172.8C128.1,173.5 127.6,174.1 126.9,174.2C126.3,174.4 125.5,174.2 124.8,173.8C124.2,173.3 123.4,172.4 122.8,171.5C122.2,170.5 121.7,169.2 121.3,168.0C121.0,166.8 120.8,165.4 120.9,164.2C120.9,163.1 121.1,162.0 121.5,161.2C121.9,160.5 122.4,159.9 123.1,159.8C123.7,159.6 124.5,159.8 125.2,160.2C125.8,160.7 126.6,161.6 127.2,162.5C127.8,163.5 128.3,164.8 128.7,166.0Z" fill="rgb(180,180,180)" stroke="rgb(125,125,125)" stroke-width="0.4"/>
<path d="M127.6,166.3C127.8,167.2 127.9,168.2 127.9,168.9C127.9,169.7 127.7,170.5 127.5,171.0C127.2,171.6 126.8,172.0 126.4,172.1C125.9,172.2 125.4,172.1 124.9,171.7C124.4,171.4 123.9,170.8 123.5,170.1C123.0,169.5 122.7,168.5 122.4,167.7C122.2,166.8 122.1,165.8 122.1,165.1C122.1,164.3 122.3,163.5 122.5,163.0C122.8,162.4 123.2,162.0 123.6,161.9C124.1,161.8 124.6,161.9 125.1,162.3C125.6,162.6 126.1,163.2 126.5,163.9C127.0,164.5 127.3,165.5 127.6,166.3Z" fill="rgb(165,165,165)" stroke="rgb(110,110,110)" stroke-width="0.4"/>
<path d="M126.5,166.6C126.6,167.1 126.7,167.7 126.7,168.1C126.6,168.6 126.6,169.0 126.4,169.3C126.3,169.6 126.0,169.8 125.8,169.9C125.5,170.0 125.2,169.9 124.9,169.7C124.7,169.5 124.4,169.2 124.1,168.8C123.9,168.4 123.7,167.9 123.5,167.4C123.4,166.9 123.3,166.3 123.3,165.9C123.4,165.4 123.4,165.0 123.6,164.7C123.7,164.4 124.0,164.2 124.2,164.1C124.5,164.0 124.8,164.1 125.1,164.3C125.3,164.5 125.6,164.8 125.9,165.2C126.1,165.6 126.3,166.1 126.5,166.6Z" fill="rgb(150,150,150)" stroke="rgb(95,95,95)" stroke-width="0.4"/>
<path d="M51.5,219.7C53.4,219.2 55.2,220.6 56.5,222.0C57.8,223.4 59.0,225.3 59.3,228.0C59.6,230.7 58.9,234.7 58.5,238.0C58.1,241.3 57.2,245.2 57.0,248.0C56.8,250.8 58.0,253.1 57.5,255.0C57.0,256.9 55.6,258.6 54.0,259.5C52.4,260.4 49.7,260.7 48.0,260.3C46.3,259.9 44.8,259.2 44.0,257.0C43.2,254.8 43.4,250.7 43.3,247.0C43.2,243.3 43.3,238.7 43.6,235.0C43.9,231.3 43.7,227.6 45.0,225.0C46.3,222.4 49.6,220.2 51.5,219.7Z" fill="rgb(234,234,234)" stroke="rgb(175,175,175)" stroke-width="0.45"/>
<path d="M51.4,222.1C53.1,221.7 54.6,222.9 55.8,224.2C56.9,225.4 58.0,227.1 58.2,229.4C58.5,231.8 57.9,235.3 57.5,238.2C57.2,241.2 56.4,244.5 56.2,247.0C56.1,249.5 57.1,251.5 56.7,253.2C56.2,254.9 55.0,256.4 53.6,257.2C52.2,257.9 49.8,258.2 48.3,257.9C46.8,257.5 45.5,256.9 44.8,255.0C44.1,253.0 44.2,249.4 44.2,246.2C44.1,242.9 44.2,238.8 44.4,235.6C44.7,232.4 44.5,229.0 45.7,226.8C46.8,224.6 49.7,222.6 51.4,222.1Z" fill="rgb(221,221,221)" stroke="rgb(155,155,155)" stroke-width="0.45"/>
<path d="M51.3,224.6C52.7,224.2 54.1,225.3 55.1,226.3C56.0,227.4 56.9,228.9 57.2,230.9C57.4,232.9 56.9,235.9 56.6,238.5C56.3,241.0 55.6,243.9 55.4,246.1C55.3,248.2 56.2,249.9 55.8,251.4C55.4,252.9 54.4,254.1 53.2,254.8C52.0,255.5 49.9,255.7 48.6,255.4C47.3,255.1 46.2,254.6 45.6,252.9C45.0,251.2 45.1,248.1 45.0,245.3C45.0,242.5 45.0,239.0 45.3,236.2C45.5,233.4 45.3,230.5 46.3,228.6C47.3,226.7 49.8,225.0 51.3,224.6Z" fill="rgb(208,208,208)" stroke="rgb(135,135,135)" stroke-width="0.45"/>
<ellipse cx="49.80" cy="240.00" rx="3.60" ry="14.00" fill="rgb(150,150,150)" stroke="rgb(110,110,110)" stroke-width="0.4" opacity="1" />
<ellipse cx="48.90" cy="251.20" rx="4.20" ry="7.50" fill="rgb(190,190,190)" stroke="rgb(120,120,120)" stroke-width="0.4" opacity="1" />
<ellipse cx="48.90" cy="251.20" rx="3.44" ry="6.15" fill="rgb(147,147,147)" stroke="rgb(115,115,115)" stroke-width="0.4" opacity="1" />
<ellipse cx="48.90" cy="251.20" rx="2.60" ry="4.65" fill="rgb(85,85,85)" stroke="rgb(60,60,60)" stroke-width="0.4" opacity="1" />
<ellipse cx="48.90" cy="251.20" rx="1.68" ry="3.00" fill="rgb(130,130,130)" stroke="rgb(85,85,85)" stroke-width="0.4" opacity="1" />
<ellipse cx="48.90" cy="251.20" rx="0.84" ry="1.50" fill="rgb(235,235,235)" stroke="rgb(145,145,145)" stroke-width="0.4" opacity="1" />
<ellipse cx="50.60" cy="230.00" rx="3.60" ry="8.30" fill="rgb(200,200,200)" stroke="rgb(130,130,130)" stroke-width="0.4" opacity="1" />
<ellipse cx="50.60" cy="230.00" rx="2.95" ry="6.81" fill="rgb(167,167,167)" stroke="rgb(145,145,145)" stroke-width="0.4" opacity="1" />
<ellipse cx="50.60" cy="230.00" rx="2.23" ry="5.15" fill="rgb(115,115,115)" stroke="rgb(90,90,90)" stroke-width="0.4" opacity="1" />
<ellipse cx="50.60" cy="230.00" rx="1.44" ry="3.32" fill="rgb(160,160,160)" stroke="rgb(115,115,115)" stroke-width="0.4" opacity="1" />
<ellipse cx="50.60" cy="230.00" rx="0.72" ry="1.66" fill="rgb(235,235,235)" stroke="rgb(175,175,175)" stroke-width="0.4" opacity="1" />
<path d="M128.0,216.5C129.9,216.2 132.5,216.8 134.0,218.0C135.5,219.2 136.4,221.3 137.0,224.0C137.6,226.7 137.5,230.7 137.5,234.0C137.5,237.3 137.6,241.2 137.0,244.0C136.4,246.8 135.5,249.1 134.0,250.5C132.5,251.9 129.9,252.7 128.0,252.6C126.1,252.5 123.7,251.9 122.5,250.0C121.3,248.1 120.9,244.7 120.6,241.0C120.2,237.3 120.1,231.6 120.4,228.0C120.7,224.4 121.2,221.4 122.5,219.5C123.8,217.6 126.1,216.8 128.0,216.5Z" fill="rgb(234,234,234)" stroke="rgb(175,175,175)" stroke-width="0.45"/>
<path d="M128.0,218.7C129.7,218.4 132.0,218.9 133.3,220.0C134.6,221.1 135.4,222.9 135.9,225.3C136.4,227.6 136.4,231.1 136.4,234.1C136.4,237.0 136.4,240.4 135.9,242.9C135.4,245.3 134.6,247.3 133.3,248.6C132.0,249.8 129.7,250.5 128.0,250.4C126.3,250.4 124.2,249.8 123.2,248.1C122.1,246.4 121.8,243.4 121.5,240.2C121.2,237.0 121.0,231.9 121.3,228.8C121.6,225.6 122.0,223.0 123.2,221.3C124.3,219.6 126.3,218.9 128.0,218.7Z" fill="rgb(221,221,221)" stroke="rgb(155,155,155)" stroke-width="0.45"/>
<path d="M128.0,220.8C129.5,220.6 131.4,221.0 132.6,222.0C133.7,222.9 134.4,224.5 134.8,226.5C135.3,228.5 135.2,231.6 135.2,234.1C135.2,236.7 135.3,239.6 134.8,241.7C134.4,243.8 133.7,245.6 132.6,246.7C131.4,247.7 129.5,248.3 128.0,248.3C126.5,248.2 124.8,247.7 123.8,246.3C122.9,244.8 122.6,242.2 122.4,239.4C122.1,236.7 122.0,232.3 122.2,229.6C122.5,226.8 122.9,224.6 123.8,223.1C124.8,221.6 126.5,221.0 128.0,220.8Z" fill="rgb(208,208,208)" stroke="rgb(135,135,135)" stroke-width="0.45"/>
<ellipse cx="127.40" cy="235.00" rx="5.60" ry="12.50" fill="rgb(190,190,190)" stroke="rgb(120,120,120)" stroke-width="0.4" opacity="1" />
<ellipse cx="127.40" cy="235.00" rx="4.59" ry="10.25" fill="rgb(147,147,147)" stroke="rgb(115,115,115)" stroke-width="0.4" opacity="1" />
<ellipse cx="127.40" cy="235.00" rx="3.47" ry="7.75" fill="rgb(85,85,85)" stroke="rgb(60,60,60)" stroke-width="0.4" opacity="1" />
<ellipse cx="127.40" cy="235.00" rx="2.24" ry="5.00" fill="rgb(130,130,130)" stroke="rgb(85,85,85)" stroke-width="0.4" opacity="1" />
<ellipse cx="127.40" cy="235.00" rx="1.12" ry="2.50" fill="rgb(235,235,235)" stroke="rgb(145,145,145)" stroke-width="0.4" opacity="1" />
</g>
<rect x="42.00" y="117.90" width="75.20" height="74.90" fill="none" stroke="#6c6c6c" stroke-width="0.85" />
<line x1="59.5" y1="117.9" x2="59.5" y2="192.8" stroke="#777" stroke-width="0.7" />
<line x1="42" y1="158.5" x2="117.2" y2="158.5" stroke="#777" stroke-width="0.7" />
<line x1="42" y1="117.9" x2="42" y2="192.8" stroke="#3a3a3a" stroke-width="0.9" />
<line x1="42.5" y1="118.9" x2="42.5" y2="192.8" stroke="#444" stroke-width="1.4" stroke-dasharray="0.5 1.7"/>
<line x1="42" y1="192.5" x2="116.2" y2="192.5" stroke="#555" stroke-width="1.1" stroke-dasharray="0.5 1.9"/>
<line x1="42" y1="134.1826086956522" x2="43.6" y2="134.1826086956522" stroke="#222" stroke-width="0.6" />
<line x1="58.34782608695652" y1="192.8" x2="58.34782608695652" y2="191.20000000000002" stroke="#222" stroke-width="0.6" />
<line x1="42" y1="150.46521739130435" x2="43.6" y2="150.46521739130435" stroke="#222" stroke-width="0.6" />
<line x1="74.69565217391305" y1="192.8" x2="74.69565217391305" y2="191.20000000000002" stroke="#222" stroke-width="0.6" />
<line x1="42" y1="166.74782608695654" x2="43.6" y2="166.74782608695654" stroke="#222" stroke-width="0.6" />
<line x1="91.04347826086958" y1="192.8" x2="91.04347826086958" y2="191.20000000000002" stroke="#222" stroke-width="0.6" />
<line x1="42" y1="183.03043478260872" x2="43.6" y2="183.03043478260872" stroke="#222" stroke-width="0.6" />
<line x1="107.3913043478261" y1="192.8" x2="107.3913043478261" y2="191.20000000000002" stroke="#222" stroke-width="0.6" />
<text x="43.8" y="124.4" font-size="6.5" font-weight="bold" text-anchor="start" fill="#111" stroke="#111" stroke-width="0.26" >12.2%</text>
<text x="115.5" y="124.4" font-size="6.5" font-weight="bold" text-anchor="end" fill="#111" stroke="#111" stroke-width="0.26" >0.00%</text>
<text x="43.8" y="191.8" font-size="6.5" font-weight="bold" text-anchor="start" fill="#111" stroke="#111" stroke-width="0.26" >84.3%</text>
<text x="115.5" y="191.8" font-size="6.5" font-weight="bold" text-anchor="end" fill="#111" stroke="#111" stroke-width="0.26" >3.55%</text>
<rect x="119.60" y="117.90" width="75.60" height="74.90" fill="none" stroke="#6c6c6c" stroke-width="0.85" />
<line x1="137.5" y1="117.9" x2="137.5" y2="192.8" stroke="#777" stroke-width="0.7" />
<line x1="119.6" y1="158.5" x2="195.2" y2="158.5" stroke="#777" stroke-width="0.7" />
<line x1="119.6" y1="117.9" x2="119.6" y2="192.8" stroke="#3a3a3a" stroke-width="0.9" />
<line x1="120.1" y1="118.9" x2="120.1" y2="192.8" stroke="#444" stroke-width="1.4" stroke-dasharray="0.5 1.7"/>
<line x1="119.6" y1="192.5" x2="194.2" y2="192.5" stroke="#555" stroke-width="1.1" stroke-dasharray="0.5 1.9"/>
<line x1="119.6" y1="134.1826086956522" x2="121.19999999999999" y2="134.1826086956522" stroke="#222" stroke-width="0.6" />
<line x1="136.03478260869565" y1="192.8" x2="136.03478260869565" y2="191.20000000000002" stroke="#222" stroke-width="0.6" />
<line x1="119.6" y1="150.46521739130435" x2="121.19999999999999" y2="150.46521739130435" stroke="#222" stroke-width="0.6" />
<line x1="152.4695652173913" y1="192.8" x2="152.4695652173913" y2="191.20000000000002" stroke="#222" stroke-width="0.6" />
<line x1="119.6" y1="166.74782608695654" x2="121.19999999999999" y2="166.74782608695654" stroke="#222" stroke-width="0.6" />
<line x1="168.90434782608696" y1="192.8" x2="168.90434782608696" y2="191.20000000000002" stroke="#222" stroke-width="0.6" />
<line x1="119.6" y1="183.03043478260872" x2="121.19999999999999" y2="183.03043478260872" stroke="#222" stroke-width="0.6" />
<line x1="185.3391304347826" y1="192.8" x2="185.3391304347826" y2="191.20000000000002" stroke="#222" stroke-width="0.6" />
<text x="121.39999999999999" y="124.4" font-size="6.5" font-weight="bold" text-anchor="start" fill="#111" stroke="#111" stroke-width="0.26" >53.8%</text>
<text x="193.5" y="124.4" font-size="6.5" font-weight="bold" text-anchor="end" fill="#111" stroke="#111" stroke-width="0.26" >1.53%</text>
<text x="121.39999999999999" y="191.8" font-size="6.5" font-weight="bold" text-anchor="start" fill="#111" stroke="#111" stroke-width="0.26" >43.5%</text>
<text x="193.5" y="191.8" font-size="6.5" font-weight="bold" text-anchor="end" fill="#111" stroke="#111" stroke-width="0.26" >1.15%</text>
<rect x="42.00" y="195.10" width="75.20" height="75.90" fill="none" stroke="#6c6c6c" stroke-width="0.85" />
<line x1="58.5" y1="195.1" x2="58.5" y2="271" stroke="#777" stroke-width="0.7" />
<line x1="42" y1="236.5" x2="117.2" y2="236.5" stroke="#777" stroke-width="0.7" />
<line x1="42" y1="195.1" x2="42" y2="271" stroke="#3a3a3a" stroke-width="0.9" />
<line x1="42.5" y1="196.1" x2="42.5" y2="271" stroke="#444" stroke-width="1.4" stroke-dasharray="0.5 1.7"/>
<line x1="42" y1="270.7" x2="116.2" y2="270.7" stroke="#555" stroke-width="1.1" stroke-dasharray="0.5 1.9"/>
<line x1="42" y1="211.6" x2="43.6" y2="211.6" stroke="#222" stroke-width="0.6" />
<line x1="58.34782608695652" y1="271" x2="58.34782608695652" y2="269.4" stroke="#222" stroke-width="0.6" />
<line x1="42" y1="228.1" x2="43.6" y2="228.1" stroke="#222" stroke-width="0.6" />
<line x1="74.69565217391305" y1="271" x2="74.69565217391305" y2="269.4" stroke="#222" stroke-width="0.6" />
<line x1="42" y1="244.6" x2="43.6" y2="244.6" stroke="#222" stroke-width="0.6" />
<line x1="91.04347826086958" y1="271" x2="91.04347826086958" y2="269.4" stroke="#222" stroke-width="0.6" />
<line x1="42" y1="261.1" x2="43.6" y2="261.1" stroke="#222" stroke-width="0.6" />
<line x1="107.3913043478261" y1="271" x2="107.3913043478261" y2="269.4" stroke="#222" stroke-width="0.6" />
<text x="43.8" y="201.6" font-size="6.5" font-weight="bold" text-anchor="start" fill="#111" stroke="#111" stroke-width="0.26" >23.4%</text>
<text x="115.5" y="201.6" font-size="6.5" font-weight="bold" text-anchor="end" fill="#111" stroke="#111" stroke-width="0.26" >0.00%</text>
<text x="43.8" y="270.0" font-size="6.5" font-weight="bold" text-anchor="start" fill="#111" stroke="#111" stroke-width="0.26" >76.6%</text>
<text x="115.5" y="270.0" font-size="6.5" font-weight="bold" text-anchor="end" fill="#111" stroke="#111" stroke-width="0.26" >0.00%</text>
<rect x="119.60" y="195.10" width="75.60" height="75.90" fill="none" stroke="#6c6c6c" stroke-width="0.85" />
<line x1="137.5" y1="195.1" x2="137.5" y2="271" stroke="#777" stroke-width="0.7" />
<line x1="119.6" y1="236.5" x2="195.2" y2="236.5" stroke="#777" stroke-width="0.7" />
<line x1="119.6" y1="195.1" x2="119.6" y2="271" stroke="#3a3a3a" stroke-width="0.9" />
<line x1="120.1" y1="196.1" x2="120.1" y2="271" stroke="#444" stroke-width="1.4" stroke-dasharray="0.5 1.7"/>
<line x1="119.6" y1="270.7" x2="194.2" y2="270.7" stroke="#555" stroke-width="1.1" stroke-dasharray="0.5 1.9"/>
<line x1="119.6" y1="211.6" x2="121.19999999999999" y2="211.6" stroke="#222" stroke-width="0.6" />
<line x1="136.03478260869565" y1="271" x2="136.03478260869565" y2="269.4" stroke="#222" stroke-width="0.6" />
<line x1="119.6" y1="228.1" x2="121.19999999999999" y2="228.1" stroke="#222" stroke-width="0.6" />
<line x1="152.4695652173913" y1="271" x2="152.4695652173913" y2="269.4" stroke="#222" stroke-width="0.6" />
<line x1="119.6" y1="244.6" x2="121.19999999999999" y2="244.6" stroke="#222" stroke-width="0.6" />
<line x1="168.90434782608696" y1="271" x2="168.90434782608696" y2="269.4" stroke="#222" stroke-width="0.6" />
<line x1="119.6" y1="261.1" x2="121.19999999999999" y2="261.1" stroke="#222" stroke-width="0.6" />
<line x1="185.3391304347826" y1="271" x2="185.3391304347826" y2="269.4" stroke="#222" stroke-width="0.6" />
<text x="121.39999999999999" y="201.6" font-size="6.5" font-weight="bold" text-anchor="start" fill="#111" stroke="#111" stroke-width="0.26" >45.3%</text>
<text x="193.5" y="201.6" font-size="6.5" font-weight="bold" text-anchor="end" fill="#111" stroke="#111" stroke-width="0.26" >0.333%</text>
<text x="121.39999999999999" y="270.0" font-size="6.5" font-weight="bold" text-anchor="start" fill="#111" stroke="#111" stroke-width="0.26" >53.3%</text>
<text x="193.5" y="270.0" font-size="6.5" font-weight="bold" text-anchor="end" fill="#111" stroke="#111" stroke-width="0.26" >1.00%</text>
<line x1="36.9" y1="223.5" x2="36.9" y2="120.8" stroke="#111" stroke-width="1.3" />
<polyline points="34.02,124.30 36.9,120.3 39.78,124.30" fill="none" stroke="#111" stroke-width="1.3" stroke-linejoin="miter"/>
<text x="33.2" y="230.5" font-size="7.6" font-weight="bold" text-anchor="start" fill="#111" stroke="#111" stroke-width="0.30" transform="rotate(90 33.2 230.5)" >Pyronin Y</text>
<text x="42.6" y="278.3" font-size="7.5" font-weight="bold" text-anchor="start" fill="#111" stroke="#111" stroke-width="0.30" >Hoechst</text>
<line x1="75" y1="275" x2="179.1" y2="275" stroke="#111" stroke-width="1.3" />
<polyline points="175.60,272.12 179.6,275 175.60,277.88" fill="none" stroke="#111" stroke-width="1.3" stroke-linejoin="miter"/>
<line x1="219.4" y1="123.5" x2="219.4" y2="188.8" stroke="#111" stroke-width="1.15" />
<line x1="217.4" y1="123.9" x2="219.4" y2="123.9" stroke="#111" stroke-width="1.035" />
<text x="216.6" y="125.628" font-size="4.8" font-weight="bold" text-anchor="end" fill="#111" stroke="#111" stroke-width="0.20" >100</text>
<line x1="217.4" y1="136.9" x2="219.4" y2="136.9" stroke="#111" stroke-width="1.035" />
<text x="216.6" y="138.62800000000001" font-size="4.8" font-weight="bold" text-anchor="end" fill="#111" stroke="#111" stroke-width="0.20" >80</text>
<line x1="217.4" y1="149.8" x2="219.4" y2="149.8" stroke="#111" stroke-width="1.035" />
<text x="216.6" y="151.52800000000002" font-size="4.8" font-weight="bold" text-anchor="end" fill="#111" stroke="#111" stroke-width="0.20" >60</text>
<line x1="217.4" y1="162.8" x2="219.4" y2="162.8" stroke="#111" stroke-width="1.035" />
<text x="216.6" y="164.52800000000002" font-size="4.8" font-weight="bold" text-anchor="end" fill="#111" stroke="#111" stroke-width="0.20" >40</text>
<line x1="217.4" y1="175.5" x2="219.4" y2="175.5" stroke="#111" stroke-width="1.035" />
<text x="216.6" y="177.228" font-size="4.8" font-weight="bold" text-anchor="end" fill="#111" stroke="#111" stroke-width="0.20" >20</text>
<line x1="217.4" y1="188.4" x2="219.4" y2="188.4" stroke="#111" stroke-width="1.035" />
<text x="216.6" y="190.12800000000001" font-size="4.8" font-weight="bold" text-anchor="end" fill="#111" stroke="#111" stroke-width="0.20" >0</text>
<line x1="218.8" y1="188.4" x2="262" y2="188.4" stroke="#111" stroke-width="1.15" />
<rect x="223.72" y="136.93" width="13.75" height="51.48" fill="#fff" stroke="#111" stroke-width="1.05" />
<line x1="230.6" y1="136.4" x2="230.6" y2="135.17499999999998" stroke="#111" stroke-width="1.2075" />
<line x1="227.0" y1="135.7" x2="234.2" y2="135.7" stroke="#111" stroke-width="1.26" />
<rect x="245.33" y="168.83" width="14.05" height="19.57" fill="#111" stroke="#111" stroke-width="1.05" />
<line x1="252.35" y1="168.3" x2="252.35" y2="163.17499999999998" stroke="#111" stroke-width="1.2075" />
<line x1="248.75" y1="163.7" x2="255.95" y2="163.7" stroke="#111" stroke-width="1.26" />
<text x="252.4" y="162.6" font-size="6.9" font-weight="bold" text-anchor="middle" fill="#111" stroke="#111" stroke-width="0.28" >**</text>
<text x="230.5" y="194.9" font-size="4.4" font-weight="bold" text-anchor="middle" fill="#111" stroke="#111" stroke-width="0.20" >WT</text>
<text x="244" y="194.9" font-size="4.4" font-weight="bold" text-anchor="start" fill="#111" stroke="#111" stroke-width="0.20" font-style="italic" textLength="13.8" lengthAdjust="spacingAndGlyphs" >Mysm1</text>
<text x="258.0" y="193.14000000000001" font-size="3.08" font-weight="bold" text-anchor="start" fill="#111" stroke="#111" stroke-width="0.20" font-style="italic" textLength="4.2" lengthAdjust="spacingAndGlyphs" >-/-</text>
<text x="201.6" y="155.6" font-size="4.4" font-weight="bold" text-anchor="middle" fill="#111" stroke="#111" stroke-width="0.20" transform="rotate(-90 201.6 155.6)" >Percentage of</text>
<text x="208" y="156.8" font-size="4.65" font-weight="bold" text-anchor="middle" fill="#111" stroke="#111" stroke-width="0.20" transform="rotate(-90 208 156.8)" >CD150<tspan dy="-1.4" font-size="60%">+</tspan><tspan dy="1.4" font-size="1%"> </tspan>CD48<tspan dy="-1.4" font-size="60%">-</tspan><tspan dy="1.4" font-size="1%"> </tspan>LSK (%)</text>
<line x1="218.4" y1="205.2" x2="218.4" y2="270.0" stroke="#111" stroke-width="1.15" />
<line x1="216.4" y1="205.6" x2="218.4" y2="205.6" stroke="#111" stroke-width="1.035" />
<text x="215.6" y="207.328" font-size="4.8" font-weight="bold" text-anchor="end" fill="#111" stroke="#111" stroke-width="0.20" >100</text>
<line x1="216.4" y1="218.3" x2="218.4" y2="218.3" stroke="#111" stroke-width="1.035" />
<text x="215.6" y="220.02800000000002" font-size="4.8" font-weight="bold" text-anchor="end" fill="#111" stroke="#111" stroke-width="0.20" >80</text>
<line x1="216.4" y1="231.2" x2="218.4" y2="231.2" stroke="#111" stroke-width="1.035" />
<text x="215.6" y="232.928" font-size="4.8" font-weight="bold" text-anchor="end" fill="#111" stroke="#111" stroke-width="0.20" >60</text>
<line x1="216.4" y1="244.2" x2="218.4" y2="244.2" stroke="#111" stroke-width="1.035" />
<text x="215.6" y="245.928" font-size="4.8" font-weight="bold" text-anchor="end" fill="#111" stroke="#111" stroke-width="0.20" >40</text>
<line x1="216.4" y1="256.9" x2="218.4" y2="256.9" stroke="#111" stroke-width="1.035" />
<text x="215.6" y="258.628" font-size="4.8" font-weight="bold" text-anchor="end" fill="#111" stroke="#111" stroke-width="0.20" >20</text>
<line x1="216.4" y1="269.6" x2="218.4" y2="269.6" stroke="#111" stroke-width="1.035" />
<text x="215.6" y="271.32800000000003" font-size="4.8" font-weight="bold" text-anchor="end" fill="#111" stroke="#111" stroke-width="0.20" >0</text>
<line x1="217.8" y1="269.6" x2="261.8" y2="269.6" stroke="#111" stroke-width="1.15" />
<rect x="222.53" y="220.93" width="14.15" height="48.68" fill="#fff" stroke="#111" stroke-width="1.05" />
<line x1="229.6" y1="220.4" x2="229.6" y2="218.075" stroke="#111" stroke-width="1.2075" />
<line x1="226.0" y1="218.6" x2="233.2" y2="218.6" stroke="#111" stroke-width="1.26" />
<rect x="244.62" y="245.43" width="14.15" height="24.18" fill="#111" stroke="#111" stroke-width="1.05" />
<line x1="251.7" y1="244.9" x2="251.7" y2="239.275" stroke="#111" stroke-width="1.2075" />
<line x1="248.1" y1="239.8" x2="255.29999999999998" y2="239.8" stroke="#111" stroke-width="1.26" />
<text x="251.8" y="238.6" font-size="6.9" font-weight="bold" text-anchor="middle" fill="#111" stroke="#111" stroke-width="0.28" >**</text>
<text x="229.6" y="276" font-size="4.4" font-weight="bold" text-anchor="middle" fill="#111" stroke="#111" stroke-width="0.20" >WT</text>
<text x="243.4" y="276" font-size="4.4" font-weight="bold" text-anchor="start" fill="#111" stroke="#111" stroke-width="0.20" font-style="italic" textLength="13.8" lengthAdjust="spacingAndGlyphs" >Mysm1</text>
<text x="257.4" y="274.24" font-size="3.08" font-weight="bold" text-anchor="start" fill="#111" stroke="#111" stroke-width="0.20" font-style="italic" textLength="4.2" lengthAdjust="spacingAndGlyphs" >-/-</text>
<text x="201.2" y="237" font-size="4.4" font-weight="bold" text-anchor="middle" fill="#111" stroke="#111" stroke-width="0.20" transform="rotate(-90 201.2 237)" >Percentage of</text>
<text x="207.6" y="237.5" font-size="4.65" font-weight="bold" text-anchor="middle" fill="#111" stroke="#111" stroke-width="0.20" transform="rotate(-90 207.6 237.5)" >CD34<tspan dy="-1.4" font-size="60%">-</tspan><tspan dy="1.4" font-size="1%"> </tspan>Flt3<tspan dy="-1.4" font-size="60%">-</tspan><tspan dy="1.4" font-size="1%"> </tspan>LSK (%)</text>
<text x="0.8" y="304.6" font-size="10.5" font-weight="bold" text-anchor="start" fill="#111" stroke="#111" stroke-width="0.42" >C</text>
<text x="26.8" y="301.8" font-size="6.5" font-weight="bold" text-anchor="start" fill="#111" stroke="#111" stroke-width="0.26" textLength="10.5" lengthAdjust="spacingAndGlyphs" >LSK</text>
<text x="84.8" y="301.8" font-size="6.5" font-weight="bold" text-anchor="start" fill="#111" stroke="#111" stroke-width="0.26" textLength="20" lengthAdjust="spacingAndGlyphs" >CD150</text>
<text x="105.2" y="299.6" font-size="4" font-weight="bold" text-anchor="start" fill="#111" stroke="#111" stroke-width="0.20" >+</text>
<text x="107.5" y="301.8" font-size="6.5" font-weight="bold" text-anchor="start" fill="#111" stroke="#111" stroke-width="0.26" textLength="16.2" lengthAdjust="spacingAndGlyphs" >CD48</text>
<text x="124" y="299.3" font-size="4.4" font-weight="bold" text-anchor="start" fill="#111" stroke="#111" stroke-width="0.20" >-</text>
<text x="128.1" y="301.8" font-size="6.5" font-weight="bold" text-anchor="start" fill="#111" stroke="#111" stroke-width="0.26" textLength="10.4" lengthAdjust="spacingAndGlyphs" >LSK</text>
<text x="149.8" y="301.8" font-size="6.5" font-weight="bold" text-anchor="start" fill="#111" stroke="#111" stroke-width="0.26" textLength="20" lengthAdjust="spacingAndGlyphs" >CD150</text>
<text x="170.2" y="299.6" font-size="4" font-weight="bold" text-anchor="start" fill="#111" stroke="#111" stroke-width="0.20" >+</text>
<text x="172.5" y="301.8" font-size="6.5" font-weight="bold" text-anchor="start" fill="#111" stroke="#111" stroke-width="0.26" textLength="16.2" lengthAdjust="spacingAndGlyphs" >CD48</text>
<text x="189" y="299.6" font-size="4" font-weight="bold" text-anchor="start" fill="#111" stroke="#111" stroke-width="0.20" >+</text>
<text x="193.8" y="301.8" font-size="6.5" font-weight="bold" text-anchor="start" fill="#111" stroke="#111" stroke-width="0.26" textLength="10.2" lengthAdjust="spacingAndGlyphs" >LSK</text>
<text x="212" y="301.8" font-size="6.5" font-weight="bold" text-anchor="start" fill="#111" stroke="#111" stroke-width="0.26" textLength="19.5" lengthAdjust="spacingAndGlyphs" >CD150</text>
<text x="231.8" y="299.3" font-size="4.4" font-weight="bold" text-anchor="start" fill="#111" stroke="#111" stroke-width="0.20" >-</text>
<text x="234.2" y="301.8" font-size="6.5" font-weight="bold" text-anchor="start" fill="#111" stroke="#111" stroke-width="0.26" textLength="14.8" lengthAdjust="spacingAndGlyphs" >CD48</text>
<text x="249.3" y="299.6" font-size="4" font-weight="bold" text-anchor="start" fill="#111" stroke="#111" stroke-width="0.20" >+</text>
<text x="252.3" y="301.8" font-size="6.5" font-weight="bold" text-anchor="start" fill="#111" stroke="#111" stroke-width="0.26" textLength="10.6" lengthAdjust="spacingAndGlyphs" >LSK</text>
<rect x="22.00" y="305.70" width="60.70" height="60.00" fill="none" stroke="#6a6a6a" stroke-width="0.8" />
<rect x="84.70" y="305.70" width="61.10" height="60.00" fill="none" stroke="#6a6a6a" stroke-width="0.8" />
<rect x="147.60" y="305.70" width="60.40" height="60.00" fill="none" stroke="#6a6a6a" stroke-width="0.8" />
<rect x="209.60" y="305.70" width="61.10" height="60.00" fill="none" stroke="#6a6a6a" stroke-width="0.8" />
<g filter="url(#b0_3)">
<path d="M22.0,365.0 L33.0,365.0 L36.0,363.5 L38.0,357.0 L39.6,335.0 L41.0,310.0 L42.2,320.0 L43.6,340.0 L45.5,353.0 L48.0,360.0 L51.0,363.0 L54.0,365.0 L82.0,365.0" fill="none" stroke="#b0b0b0" stroke-width="1.05" stroke-linejoin="round"/>
<path d="M22.0,365.0 L36.5,365.0 L38.8,363.0 L40.8,353.0 L42.6,332.0 L44.0,321.5 L44.8,320.0 L45.6,322.0 L46.4,321.5 L47.2,315.0 L47.9,312.0 L48.8,320.0 L50.2,343.0 L51.7,357.0 L53.6,363.0 L56.5,365.0 L82.0,365.0" fill="none" stroke="#3a3a3a" stroke-width="1.2" stroke-linejoin="round"/>
<line x1="43" y1="314.5" x2="58.4" y2="314.5" stroke="#999" stroke-width="0.9" />
<text x="60.3" y="316.7" font-size="6" font-weight="normal" text-anchor="start" fill="#999" >WT</text>
<line x1="51" y1="332.8" x2="58.4" y2="330.3" stroke="#333" stroke-width="0.9" />
<text x="59.8" y="332" font-size="5.5" font-weight="bold" text-anchor="start" fill="#222" stroke="#222" stroke-width="0.22" font-style="italic" textLength="15.5" lengthAdjust="spacingAndGlyphs" >Mysm1</text>
<text x="75.5" y="329.8" font-size="3.8499999999999996" font-weight="bold" text-anchor="start" fill="#222" stroke="#222" stroke-width="0.20" font-style="italic" textLength="5" lengthAdjust="spacingAndGlyphs" >-/-</text>
<path d="M85.0,365.0 L92.5,365.0 L95.5,363.5 L98.3,357.0 L100.3,335.0 L101.8,320.0 L103.2,329.0 L104.7,347.0 L106.8,356.0 L110.3,360.0 L114.3,362.0 L118.0,364.0 L121.5,365.0 L145.0,365.0" fill="none" stroke="#b0b0b0" stroke-width="1.05" stroke-linejoin="round"/>
<path d="M85.0,365.0 L95.5,365.0 L98.0,363.5 L100.5,359.0 L102.5,347.0 L104.0,338.0 L105.0,335.0 L106.1,325.5 L107.2,334.0 L108.5,338.5 L110.3,337.5 L111.5,343.0 L113.3,355.0 L115.8,361.0 L118.5,363.5 L121.0,365.0 L145.0,365.0" fill="none" stroke="#3a3a3a" stroke-width="1.2" stroke-linejoin="round"/>
<path d="M148.0,365.0 L157.0,365.0 L160.3,363.0 L162.6,353.0 L164.5,330.0 L165.8,320.0 L167.2,327.0 L168.9,345.0 L171.2,355.0 L174.5,361.0 L179.0,364.0 L182.0,365.0 L207.5,365.0" fill="none" stroke="#b0b0b0" stroke-width="1.05" stroke-linejoin="round"/>
<path d="M148.0,365.0 L160.0,365.0 L163.3,363.0 L166.2,355.0 L168.5,341.0 L170.0,331.0 L171.0,329.0 L172.2,317.0 L173.3,311.0 L174.4,323.0 L175.8,347.0 L177.6,358.0 L180.0,363.0 L182.5,365.0 L207.5,365.0" fill="none" stroke="#3a3a3a" stroke-width="1.2" stroke-linejoin="round"/>
<path d="M210.0,365.0 L222.0,365.0 L224.5,363.0 L226.0,353.0 L227.5,327.0 L228.8,312.0 L230.0,323.0 L231.5,347.0 L233.5,360.0 L236.0,364.0 L238.0,365.0 L270.0,365.0" fill="none" stroke="#b0b0b0" stroke-width="1.05" stroke-linejoin="round"/>
<path d="M210.0,365.0 L224.5,365.0 L227.0,363.0 L229.0,353.0 L230.5,329.0 L232.0,318.0 L233.2,325.0 L234.2,337.0 L235.2,343.0 L236.5,357.0 L238.5,363.0 L241.0,365.0 L270.0,365.0" fill="none" stroke="#3a3a3a" stroke-width="1.2" stroke-linejoin="round"/>
</g>
<text x="17.6" y="336.2" font-size="6.75" font-weight="bold" text-anchor="middle" fill="#111" stroke="#111" stroke-width="0.27" transform="rotate(-90 17.6 336.2)" >Percentage of max</text>
<text x="27" y="373.4" font-size="6.8" font-weight="bold" text-anchor="start" fill="#111" stroke="#111" stroke-width="0.27" >BrdU</text>
<line x1="48.8" y1="370.9" x2="247.0" y2="370.9" stroke="#111" stroke-width="1.3" />
<polyline points="243.50,368.02 247.5,370.9 243.50,373.78" fill="none" stroke="#111" stroke-width="1.3" stroke-linejoin="miter"/>
<text x="280.4" y="8.9" font-size="10.5" font-weight="bold" text-anchor="start" fill="#111" stroke="#111" stroke-width="0.42" >D</text>
<text x="327.3" y="9.2" font-size="5.5" font-weight="bold" text-anchor="start" fill="#111" stroke="#111" stroke-width="0.22" textLength="21.7" lengthAdjust="spacingAndGlyphs" >WT LSK</text>
<text x="411.2" y="9.2" font-size="5.6" font-weight="bold" text-anchor="start" fill="#111" stroke="#111" stroke-width="0.22" font-style="italic" textLength="20.3" lengthAdjust="spacingAndGlyphs" >Mysm1</text>
<text x="431.7" y="7.3999999999999995" font-size="4.2" font-weight="bold" text-anchor="start" fill="#111" stroke="#111" stroke-width="0.20" font-style="italic" textLength="5.6" lengthAdjust="spacingAndGlyphs" >-/-</text>
<text x="442.7" y="9.2" font-size="5.5" font-weight="bold" text-anchor="start" fill="#111" stroke="#111" stroke-width="0.22" textLength="8.8" lengthAdjust="spacingAndGlyphs" >LSK</text>
<g filter="url(#b0_3)">
<path d="M371.2,37.3h0.01M371.3,33.6h0.01M370.2,34.0h0.01M373.3,36.9h0.01M373.2,36.1h0.01M372.2,35.8h0.01M369.1,38.8h0.01M372.4,37.2h0.01M369.1,27.2h0.01M370.3,32.9h0.01M372.1,34.8h0.01M372.4,32.1h0.01M372.1,36.8h0.01M370.6,42.7h0.01M372.4,40.4h0.01M370.7,31.7h0.01M371.1,34.5h0.01M372.5,36.1h0.01M370.9,30.7h0.01M370.8,40.5h0.01M370.4,36.1h0.01M372.2,28.3h0.01M371.7,40.9h0.01M368.6,33.6h0.01M371.4,31.3h0.01M372.3,34.7h0.01M369.4,38.7h0.01M372.6,39.3h0.01M373.8,36.6h0.01M371.8,29.2h0.01M372.5,32.2h0.01M370.9,29.3h0.01M370.1,32.6h0.01M373.5,25.9h0.01M369.4,36.1h0.01M373.8,37.6h0.01M368.8,23.7h0.01M372.1,31.7h0.01M369.9,39.4h0.01M373.3,35.7h0.01M372.0,37.0h0.01M374.0,37.8h0.01M372.4,37.5h0.01M369.2,40.8h0.01M373.0,37.4h0.01M368.6,32.1h0.01M372.9,26.8h0.01M371.3,39.6h0.01M369.6,42.2h0.01M372.4,34.3h0.01M372.1,37.9h0.01M371.8,40.2h0.01M370.6,33.1h0.01M373.2,35.1h0.01M370.3,39.3h0.01M373.8,33.0h0.01M369.5,34.4h0.01M371.4,33.7h0.01M373.7,30.4h0.01M373.5,29.3h0.01M370.4,37.8h0.01M373.3,38.9h0.01M372.1,35.6h0.01M371.8,37.6h0.01M371.3,36.2h0.01M372.5,35.0h0.01M372.7,37.5h0.01M374.6,36.5h0.01M371.0,33.3h0.01M371.6,39.2h0.01" stroke="#777" stroke-width="0.6" stroke-linecap="round" opacity="0.8" fill="none"/>
<path d="M371.3,35.0h0.01M373.1,27.6h0.01M370.7,34.6h0.01M371.9,34.6h0.01M371.3,35.6h0.01M371.8,32.7h0.01M373.5,34.9h0.01M371.2,33.8h0.01M371.4,33.8h0.01M369.4,32.8h0.01M372.4,31.1h0.01M371.5,36.4h0.01M372.3,37.7h0.01M370.2,33.1h0.01M371.3,35.6h0.01M372.5,27.3h0.01M372.5,30.4h0.01M372.1,30.3h0.01M371.7,37.0h0.01M371.5,34.5h0.01M372.2,34.4h0.01M371.5,37.8h0.01M372.4,33.3h0.01M373.8,31.1h0.01M372.3,33.3h0.01M371.7,35.8h0.01M371.8,35.6h0.01M370.4,30.2h0.01M372.1,31.6h0.01M370.8,30.3h0.01" stroke="#555" stroke-width="0.7" stroke-linecap="round" opacity="0.8" fill="none"/>
<ellipse cx="367.30" cy="62.30" rx="1.40" ry="4.00" fill="#555" stroke="none" stroke-width="0" opacity="0.75" transform="rotate(12 367.3 62.3)" />
<path d="M368.3,65.0h0.01M369.7,59.6h0.01M368.1,58.6h0.01M367.1,67.6h0.01M365.2,67.1h0.01M368.6,62.0h0.01M364.0,66.3h0.01M367.6,60.3h0.01M367.5,63.7h0.01M369.8,59.4h0.01M367.6,67.4h0.01M369.1,62.1h0.01M365.7,65.4h0.01M367.3,62.7h0.01M369.2,61.8h0.01M364.9,60.5h0.01M364.6,64.5h0.01M368.1,60.4h0.01M366.7,65.0h0.01M366.5,66.6h0.01M366.5,65.6h0.01M367.9,67.9h0.01M365.9,65.0h0.01M365.8,58.3h0.01M364.3,65.3h0.01M365.9,62.0h0.01M367.1,62.2h0.01M366.4,62.9h0.01M369.4,62.9h0.01M367.2,65.7h0.01M367.9,58.2h0.01M365.9,65.6h0.01M365.8,60.0h0.01M367.9,65.1h0.01M366.8,64.9h0.01M368.3,58.5h0.01M365.9,59.8h0.01M368.8,60.7h0.01M366.8,59.6h0.01M365.6,61.5h0.01M365.7,63.2h0.01M364.3,62.8h0.01M367.9,55.9h0.01M368.3,61.6h0.01M365.3,58.9h0.01M368.0,60.9h0.01M367.7,64.9h0.01M367.9,63.5h0.01M368.4,64.8h0.01M369.3,55.7h0.01M367.5,66.8h0.01M367.3,60.7h0.01M370.8,57.1h0.01M366.2,70.2h0.01M365.7,64.3h0.01M369.6,62.4h0.01M367.3,65.4h0.01M366.3,61.8h0.01M367.1,65.0h0.01M367.4,61.7h0.01M366.4,60.9h0.01M368.3,62.9h0.01M366.9,59.4h0.01M369.6,66.6h0.01M369.8,54.1h0.01M367.7,64.0h0.01M369.0,64.1h0.01M366.9,64.0h0.01M364.3,65.2h0.01M368.2,60.1h0.01M367.6,68.5h0.01M366.1,59.8h0.01M367.5,63.0h0.01M367.5,59.1h0.01M369.1,66.2h0.01M366.8,57.7h0.01M368.6,65.9h0.01M368.9,65.4h0.01M366.1,62.9h0.01M365.3,59.3h0.01M366.9,64.0h0.01M366.5,61.7h0.01M367.6,63.6h0.01M367.9,63.1h0.01M366.4,64.8h0.01M367.9,59.6h0.01M366.6,62.1h0.01M367.1,62.8h0.01M367.2,62.9h0.01M368.0,58.2h0.01M367.1,65.8h0.01M367.9,61.8h0.01M368.5,59.3h0.01M365.0,62.0h0.01M365.7,64.5h0.01M367.8,53.5h0.01M365.0,67.1h0.01M367.8,57.8h0.01M366.0,63.8h0.01M367.8,63.0h0.01M368.6,65.0h0.01M366.9,64.2h0.01M368.6,65.8h0.01M369.2,59.1h0.01M366.6,64.6h0.01M366.2,65.7h0.01M367.4,65.4h0.01M365.3,70.5h0.01M368.9,61.9h0.01M365.6,70.7h0.01M366.3,65.0h0.01M368.4,62.6h0.01M365.8,62.6h0.01M366.9,66.0h0.01M368.2,62.6h0.01M367.9,64.3h0.01M367.5,62.5h0.01M366.5,64.5h0.01M366.5,60.0h0.01M368.3,57.6h0.01M368.2,55.7h0.01M366.1,64.0h0.01M368.0,62.3h0.01M368.0,57.7h0.01M369.1,64.4h0.01M369.2,59.7h0.01M368.3,56.4h0.01M367.6,65.5h0.01M365.1,61.7h0.01M369.2,56.8h0.01M365.9,58.4h0.01M367.5,57.6h0.01M367.2,63.1h0.01M367.6,64.7h0.01M368.3,66.4h0.01M366.1,60.3h0.01M366.8,58.6h0.01M367.2,62.3h0.01M369.0,57.3h0.01M365.9,61.9h0.01M367.3,61.2h0.01M367.7,59.8h0.01M367.9,63.6h0.01M367.7,60.1h0.01M369.0,53.5h0.01M366.1,62.2h0.01M365.4,62.6h0.01M368.4,57.9h0.01M367.2,61.2h0.01M367.4,64.4h0.01M367.8,59.5h0.01M367.2,62.1h0.01M368.0,63.4h0.01M367.4,57.7h0.01M367.4,59.8h0.01M366.1,61.6h0.01M366.7,62.5h0.01M368.2,61.1h0.01M370.2,61.8h0.01M368.5,63.0h0.01M370.2,54.9h0.01M366.2,62.9h0.01M366.4,70.0h0.01M366.8,66.5h0.01M367.5,65.5h0.01M368.0,61.9h0.01M368.6,58.9h0.01M369.4,59.3h0.01M366.1,69.2h0.01M367.0,62.3h0.01M368.6,62.7h0.01M366.2,62.9h0.01M367.5,64.7h0.01M365.2,67.8h0.01M369.2,62.8h0.01M367.9,61.0h0.01M369.4,60.4h0.01M368.4,60.9h0.01M366.0,64.4h0.01M368.9,62.6h0.01M365.9,64.8h0.01M367.0,63.3h0.01M368.3,66.3h0.01M365.1,69.5h0.01M366.8,64.8h0.01M366.6,62.0h0.01M364.0,67.6h0.01M369.7,58.7h0.01M366.6,56.7h0.01M369.0,61.1h0.01M367.4,61.3h0.01M367.9,58.8h0.01M368.3,57.7h0.01M367.0,63.3h0.01M368.0,61.7h0.01M366.1,62.6h0.01M365.7,67.2h0.01M368.3,62.1h0.01M367.2,59.9h0.01M366.4,60.9h0.01" stroke="#444" stroke-width="0.7" stroke-linecap="round" opacity="0.85" fill="none"/>
<path d="M368.2,66.1h0.01M369.0,75.6h0.01M365.2,63.1h0.01M375.7,51.8h0.01M365.7,64.0h0.01M367.8,65.4h0.01M366.6,65.2h0.01M367.5,67.6h0.01M361.6,57.7h0.01M367.3,56.8h0.01M364.2,66.8h0.01M365.4,66.8h0.01M369.5,64.8h0.01M368.8,62.4h0.01M363.1,62.8h0.01M368.7,59.8h0.01M367.0,67.5h0.01M364.7,66.8h0.01M372.9,59.7h0.01M367.7,62.1h0.01M371.9,64.9h0.01M370.0,58.9h0.01M367.3,62.9h0.01M362.0,71.6h0.01M370.0,52.5h0.01M369.5,62.2h0.01M368.6,65.2h0.01M362.8,61.7h0.01M371.8,59.6h0.01M364.2,54.8h0.01M363.6,65.0h0.01M372.4,65.6h0.01M368.0,76.4h0.01M365.7,59.0h0.01M368.9,66.3h0.01M364.3,56.0h0.01M368.2,64.5h0.01M363.4,61.8h0.01M365.7,65.8h0.01M366.9,62.5h0.01M366.2,69.3h0.01M371.5,60.8h0.01M369.8,58.5h0.01M367.5,67.5h0.01M371.8,60.7h0.01M367.1,64.2h0.01M362.8,63.1h0.01M365.3,65.2h0.01M363.9,51.1h0.01M367.4,64.6h0.01" stroke="#888" stroke-width="0.6" stroke-linecap="round" opacity="0.7" fill="none"/>
<path d="M372.1,59.3h0.01M372.3,57.5h0.01M373.1,56.3h0.01M371.9,58.2h0.01M373.4,58.0h0.01M372.9,57.4h0.01M372.9,60.2h0.01M371.9,61.0h0.01M372.0,58.2h0.01M372.8,59.4h0.01M371.4,55.7h0.01M373.2,59.2h0.01M373.2,61.4h0.01M372.8,58.5h0.01M373.5,58.6h0.01M374.3,56.7h0.01M372.2,54.1h0.01M373.4,57.8h0.01M373.5,60.8h0.01M372.6,57.9h0.01M372.1,57.2h0.01M372.0,59.0h0.01M372.6,58.3h0.01M372.4,59.3h0.01M373.1,58.0h0.01" stroke="#666" stroke-width="0.66" stroke-linecap="round" opacity="0.8" fill="none"/>
<path d="M349.7,59.4h0.01M336.9,65.8h0.01M348.3,56.2h0.01M352.6,61.4h0.01M334.0,66.4h0.01M347.3,63.6h0.01M346.4,59.4h0.01M334.2,63.9h0.01M345.2,58.9h0.01M347.5,60.3h0.01" stroke="#bbb" stroke-width="0.6" stroke-linecap="round" opacity="0.7" fill="none"/>
<ellipse cx="448.60" cy="34.80" rx="1.50" ry="4.30" fill="#666" stroke="none" stroke-width="0" opacity="0.6" />
<path d="M449.9,33.2h0.01M448.5,24.7h0.01M447.8,38.2h0.01M451.1,33.3h0.01M448.4,42.6h0.01M448.0,38.5h0.01M451.8,35.2h0.01M450.9,31.6h0.01M449.0,34.6h0.01M448.8,40.4h0.01M453.1,31.8h0.01M447.5,37.4h0.01M446.6,37.4h0.01M449.7,33.7h0.01M449.6,27.6h0.01M450.0,27.6h0.01M447.3,32.3h0.01M447.8,39.1h0.01M448.8,33.1h0.01M449.6,42.6h0.01M448.6,36.8h0.01M451.0,36.3h0.01M446.2,47.0h0.01M452.8,25.5h0.01M448.5,37.0h0.01M450.4,38.2h0.01M448.1,29.9h0.01M448.8,40.0h0.01M446.5,30.1h0.01M448.6,25.7h0.01M448.1,32.9h0.01M449.5,31.6h0.01M446.9,33.1h0.01M448.5,31.8h0.01M448.6,38.6h0.01M450.9,43.2h0.01M447.1,33.0h0.01M443.9,44.1h0.01M447.2,34.8h0.01M449.6,28.5h0.01M449.5,34.9h0.01M445.1,36.4h0.01M450.9,26.0h0.01M450.1,36.0h0.01M449.5,37.1h0.01M451.1,33.9h0.01M450.3,33.0h0.01M450.0,31.1h0.01M448.4,43.3h0.01M449.4,34.2h0.01M446.4,31.2h0.01M449.0,39.5h0.01M449.4,37.5h0.01M448.5,41.5h0.01M447.9,32.4h0.01M450.3,35.3h0.01M448.1,32.2h0.01M448.1,38.0h0.01M449.3,29.2h0.01M449.4,35.9h0.01M446.7,38.7h0.01M448.1,33.4h0.01M450.1,41.3h0.01M447.3,37.1h0.01M446.9,46.1h0.01M447.7,40.7h0.01M447.4,38.9h0.01M452.8,22.8h0.01M447.8,37.4h0.01M448.4,31.8h0.01M452.7,35.4h0.01M445.5,39.1h0.01M445.3,40.5h0.01M447.5,35.7h0.01M451.0,35.6h0.01M446.0,26.9h0.01M450.8,38.6h0.01M447.1,39.1h0.01M449.5,38.1h0.01M444.3,33.5h0.01M450.3,38.5h0.01M450.3,23.2h0.01M448.9,37.4h0.01M453.4,30.4h0.01M448.0,35.2h0.01M450.3,32.9h0.01M450.8,31.2h0.01M449.1,32.5h0.01M448.9,31.7h0.01M445.6,40.2h0.01M449.2,32.3h0.01M449.0,39.8h0.01M446.7,34.5h0.01M449.6,37.5h0.01M448.0,24.9h0.01M451.0,36.6h0.01M448.6,33.7h0.01M449.1,33.0h0.01M446.7,31.4h0.01M447.5,32.1h0.01M446.4,38.1h0.01M446.1,38.2h0.01M446.7,36.7h0.01M451.2,36.0h0.01M447.2,35.2h0.01M448.9,26.7h0.01M447.4,35.8h0.01M447.7,35.4h0.01M450.0,38.7h0.01M450.3,37.8h0.01M448.1,34.9h0.01M448.1,33.5h0.01M448.3,26.7h0.01M448.0,34.9h0.01M446.7,34.9h0.01M449.6,34.2h0.01M452.5,22.5h0.01M448.2,26.2h0.01M450.5,47.7h0.01M443.8,35.6h0.01M449.6,33.5h0.01M449.6,24.2h0.01M450.2,36.8h0.01M448.6,32.2h0.01M449.8,32.7h0.01M449.0,32.6h0.01M444.3,34.8h0.01M449.0,38.6h0.01M446.9,34.8h0.01M449.8,35.7h0.01M451.0,44.6h0.01M446.9,25.8h0.01M450.2,42.3h0.01M450.4,38.9h0.01M447.4,31.6h0.01M450.3,30.6h0.01M445.2,30.2h0.01M453.3,44.2h0.01M447.3,31.5h0.01M449.0,31.4h0.01M451.1,34.6h0.01M446.5,41.3h0.01M447.5,36.1h0.01M448.6,33.5h0.01M449.2,31.7h0.01M445.1,24.4h0.01M446.2,31.4h0.01M448.6,35.3h0.01M449.7,35.6h0.01M447.1,31.6h0.01M444.6,34.2h0.01M449.5,37.5h0.01M448.4,34.2h0.01M450.4,35.1h0.01M450.0,37.8h0.01M449.0,41.3h0.01M447.5,33.3h0.01M447.1,31.2h0.01M451.6,43.4h0.01M448.6,37.7h0.01M450.8,38.9h0.01M450.9,28.9h0.01M447.4,37.2h0.01M451.3,35.5h0.01M447.0,33.3h0.01M447.3,30.9h0.01M451.5,32.0h0.01M448.6,45.4h0.01M450.9,36.6h0.01M447.4,37.0h0.01" stroke="#555" stroke-width="0.66" stroke-linecap="round" opacity="0.85" fill="none"/>
<path d="M455.9,40.4h0.01M454.3,36.7h0.01M450.9,34.6h0.01M450.5,45.1h0.01M442.2,35.6h0.01M449.7,32.0h0.01M447.2,41.5h0.01M457.6,40.4h0.01M450.1,25.1h0.01M457.3,36.5h0.01M448.4,28.2h0.01M448.3,28.3h0.01M448.9,39.3h0.01M448.7,38.0h0.01M444.8,46.0h0.01M445.7,23.3h0.01M447.8,30.7h0.01M444.1,33.5h0.01M449.9,27.7h0.01M448.0,46.0h0.01M451.7,34.9h0.01M449.2,35.2h0.01M448.4,41.1h0.01M448.2,19.2h0.01M448.5,29.8h0.01M451.5,31.7h0.01M449.3,51.2h0.01M443.9,28.1h0.01M442.2,19.2h0.01M440.1,38.6h0.01M445.7,22.9h0.01M441.9,40.3h0.01M445.1,33.4h0.01M450.1,45.5h0.01M457.3,43.2h0.01M449.2,37.3h0.01M456.7,46.0h0.01M447.2,39.2h0.01M449.9,36.4h0.01M446.3,26.7h0.01M446.2,25.2h0.01M454.1,39.8h0.01M443.2,45.8h0.01M452.6,22.6h0.01M456.9,41.7h0.01M457.9,27.4h0.01M451.0,39.0h0.01M449.5,37.2h0.01M453.3,25.5h0.01M443.0,26.2h0.01" stroke="#888" stroke-width="0.6" stroke-linecap="round" opacity="0.7" fill="none"/>
<ellipse cx="444.60" cy="64.80" rx="2.00" ry="4.60" fill="#444" stroke="none" stroke-width="0" opacity="0.75" transform="rotate(18 444.6 64.8)" />
<path d="M444.3,62.0h0.01M445.0,66.1h0.01M445.5,62.1h0.01M442.5,68.3h0.01M445.9,65.7h0.01M442.0,70.8h0.01M442.6,67.0h0.01M447.1,64.5h0.01M447.6,60.9h0.01M446.3,66.2h0.01M440.7,66.5h0.01M441.2,69.4h0.01M443.5,63.7h0.01M445.6,63.6h0.01M445.8,62.8h0.01M445.9,65.2h0.01M448.6,53.9h0.01M446.8,65.6h0.01M441.1,64.1h0.01M444.1,69.4h0.01M440.5,70.3h0.01M441.2,74.3h0.01M443.4,67.4h0.01M445.4,60.1h0.01M445.5,69.1h0.01M446.4,69.2h0.01M445.7,57.8h0.01M444.2,61.7h0.01M442.3,66.6h0.01M445.6,63.9h0.01M445.1,64.3h0.01M444.0,67.9h0.01M447.3,62.7h0.01M439.9,69.6h0.01M443.4,69.3h0.01M441.9,62.5h0.01M446.5,59.1h0.01M442.7,67.4h0.01M444.6,71.8h0.01M444.8,58.7h0.01M444.4,68.9h0.01M446.7,59.7h0.01M445.1,68.4h0.01M446.3,63.2h0.01M444.2,68.1h0.01M445.9,57.1h0.01M444.6,66.9h0.01M443.5,68.4h0.01M443.6,64.1h0.01M443.3,66.9h0.01M448.0,64.8h0.01M446.5,72.2h0.01M445.3,67.6h0.01M448.2,65.2h0.01M445.8,60.5h0.01M443.8,70.5h0.01M445.1,66.8h0.01M444.0,65.4h0.01M440.5,68.1h0.01M445.3,60.1h0.01M444.2,61.0h0.01M444.9,69.6h0.01M440.8,67.7h0.01M447.0,63.0h0.01M442.7,60.9h0.01M442.9,65.8h0.01M446.6,56.5h0.01M447.0,58.8h0.01M447.9,60.5h0.01M444.4,61.0h0.01M441.9,69.6h0.01M445.4,67.7h0.01M447.2,58.8h0.01M444.3,62.3h0.01M442.1,66.2h0.01M444.1,61.5h0.01M445.3,55.9h0.01M444.0,70.5h0.01M446.2,61.0h0.01M439.2,63.8h0.01M446.5,66.7h0.01M444.4,71.3h0.01M447.3,63.7h0.01M445.6,68.5h0.01M442.2,62.2h0.01M442.0,63.5h0.01M447.1,60.9h0.01M439.0,68.7h0.01M443.4,70.9h0.01M440.7,68.2h0.01M445.9,74.1h0.01M443.9,65.7h0.01M443.0,68.7h0.01M446.5,65.8h0.01M441.1,66.9h0.01M442.9,67.0h0.01M443.0,71.4h0.01M447.3,63.7h0.01M443.0,72.1h0.01M443.0,66.2h0.01M445.2,70.6h0.01M447.3,59.8h0.01M441.9,65.0h0.01M442.0,75.2h0.01M441.5,68.8h0.01M448.2,58.6h0.01M442.8,65.0h0.01M443.9,63.9h0.01M446.5,61.9h0.01M446.3,62.5h0.01M442.9,66.6h0.01M443.1,65.6h0.01M447.6,65.9h0.01M443.4,67.6h0.01M442.5,68.9h0.01M441.4,66.5h0.01M444.7,61.3h0.01M449.1,62.5h0.01M447.1,68.5h0.01M448.6,61.8h0.01M445.0,71.4h0.01M444.5,64.2h0.01M449.0,67.0h0.01M444.6,62.0h0.01M445.0,66.4h0.01M442.7,71.8h0.01M443.4,66.5h0.01M448.7,61.7h0.01M444.2,72.8h0.01M443.4,59.6h0.01M445.0,56.8h0.01M447.9,57.7h0.01M443.7,70.9h0.01M441.9,62.5h0.01M439.9,66.7h0.01M443.5,63.3h0.01M444.0,67.0h0.01M443.9,64.6h0.01M443.4,64.9h0.01M442.3,64.3h0.01M441.6,61.6h0.01M448.1,66.3h0.01M441.9,65.0h0.01M444.9,57.6h0.01M442.2,67.3h0.01M445.5,64.6h0.01M444.2,59.9h0.01M446.8,66.6h0.01M445.5,55.8h0.01M438.8,73.8h0.01M442.5,63.8h0.01M445.2,64.3h0.01M445.9,59.1h0.01M440.4,70.9h0.01M442.1,67.7h0.01M441.7,62.7h0.01M443.8,69.1h0.01M441.7,66.5h0.01M446.3,62.1h0.01M446.7,61.5h0.01M443.1,64.2h0.01M439.6,62.7h0.01M444.6,58.3h0.01M442.8,67.6h0.01M442.2,69.6h0.01M444.1,58.8h0.01M447.0,67.4h0.01M447.5,62.1h0.01M445.8,66.3h0.01M445.8,65.3h0.01M447.7,63.0h0.01M444.7,58.3h0.01M447.8,62.6h0.01M443.8,60.4h0.01M445.4,59.4h0.01M444.9,62.1h0.01M444.8,60.6h0.01M445.3,63.0h0.01M444.5,65.9h0.01M448.1,56.3h0.01M444.6,61.3h0.01M448.1,59.0h0.01M443.6,63.2h0.01M442.7,68.6h0.01M442.5,68.4h0.01M444.2,56.7h0.01M446.4,67.3h0.01M445.4,65.6h0.01M447.1,60.2h0.01M447.1,63.3h0.01M446.4,65.8h0.01M442.5,58.4h0.01M446.9,65.0h0.01M443.5,65.5h0.01M444.5,62.4h0.01M444.6,65.4h0.01M447.4,65.9h0.01M445.8,73.2h0.01M446.5,70.1h0.01M444.7,65.4h0.01M445.3,61.8h0.01M445.3,62.2h0.01M447.0,67.9h0.01M446.2,56.9h0.01M445.0,63.1h0.01M444.0,59.6h0.01M439.6,65.7h0.01M441.1,75.1h0.01M444.7,64.2h0.01M447.2,66.2h0.01M445.4,63.4h0.01M441.5,70.4h0.01M444.3,72.3h0.01M443.9,64.7h0.01M441.7,68.1h0.01M441.2,66.2h0.01M444.9,71.1h0.01M441.4,68.6h0.01M444.2,61.3h0.01M440.6,68.6h0.01M448.5,63.4h0.01M443.6,63.0h0.01M448.1,70.4h0.01M445.9,57.3h0.01M441.8,69.1h0.01M448.5,64.9h0.01M443.9,62.3h0.01M439.8,67.3h0.01M441.2,68.4h0.01M443.0,58.7h0.01M446.1,61.9h0.01M446.1,65.3h0.01M441.6,66.6h0.01M448.7,57.7h0.01M447.4,67.9h0.01M448.5,57.8h0.01M443.7,63.0h0.01M448.5,59.6h0.01M445.6,56.1h0.01M443.7,66.0h0.01M442.2,61.4h0.01M443.5,71.4h0.01M446.3,64.0h0.01M443.6,60.3h0.01M443.1,65.0h0.01M442.3,71.4h0.01M446.5,60.7h0.01M446.3,69.5h0.01M445.7,62.0h0.01M442.4,59.6h0.01M447.4,62.2h0.01M441.8,64.8h0.01M444.3,67.4h0.01M444.0,70.8h0.01M441.7,68.2h0.01M441.8,67.0h0.01M444.6,65.9h0.01M446.5,65.3h0.01M445.6,69.0h0.01M445.6,62.6h0.01M443.9,62.2h0.01M444.2,64.6h0.01M449.4,69.2h0.01M447.2,61.8h0.01M443.7,63.1h0.01M446.3,60.8h0.01M448.4,63.5h0.01M449.7,56.1h0.01M444.2,65.9h0.01M444.2,67.3h0.01M444.9,65.6h0.01M441.9,60.8h0.01M439.3,65.9h0.01M445.4,64.2h0.01M443.8,62.0h0.01M445.9,72.9h0.01M442.8,69.9h0.01M444.1,56.1h0.01M444.8,61.0h0.01M443.3,65.2h0.01M451.2,64.0h0.01M444.3,65.9h0.01M443.3,68.5h0.01M449.6,60.9h0.01M445.3,63.8h0.01M447.3,58.9h0.01M444.3,54.5h0.01M445.4,65.9h0.01M447.8,55.4h0.01M444.9,61.6h0.01M443.1,60.3h0.01M445.2,67.4h0.01M443.9,66.8h0.01M443.4,64.7h0.01M444.0,67.0h0.01M444.7,64.2h0.01M445.2,62.1h0.01M448.2,68.2h0.01M442.4,74.2h0.01M449.3,59.4h0.01M444.8,68.6h0.01M446.5,71.2h0.01M447.6,60.6h0.01M442.6,65.3h0.01M446.9,61.0h0.01M444.4,63.0h0.01M444.3,66.2h0.01M445.7,59.7h0.01M444.9,71.9h0.01M443.1,68.8h0.01M444.6,67.7h0.01M446.5,62.0h0.01M444.4,69.2h0.01M440.3,72.1h0.01M446.2,73.4h0.01M447.4,69.0h0.01M444.7,62.2h0.01M442.9,64.8h0.01M443.7,67.5h0.01M437.8,72.8h0.01M449.0,66.1h0.01M445.3,67.1h0.01M445.4,64.1h0.01M445.4,61.4h0.01M445.0,64.8h0.01M446.3,61.6h0.01M444.6,65.0h0.01M447.1,60.9h0.01M444.1,69.0h0.01M446.2,63.7h0.01M444.0,63.6h0.01M444.0,71.5h0.01M445.1,62.1h0.01M445.0,65.8h0.01M443.8,61.3h0.01M443.5,67.4h0.01M443.7,60.0h0.01M447.1,60.2h0.01M444.3,66.3h0.01M445.7,60.7h0.01M444.9,63.4h0.01M446.3,61.7h0.01M448.9,58.8h0.01M444.3,64.7h0.01M447.2,63.0h0.01M446.4,62.9h0.01M443.7,72.2h0.01M443.3,66.3h0.01M441.6,68.1h0.01M446.9,65.7h0.01M441.9,65.7h0.01M445.4,69.9h0.01M448.5,58.0h0.01M441.5,70.1h0.01M440.8,68.6h0.01M447.2,69.0h0.01M447.2,64.2h0.01M442.4,63.6h0.01M444.3,64.5h0.01M446.1,64.7h0.01M444.4,66.6h0.01M442.2,72.2h0.01M445.3,65.4h0.01M445.0,62.2h0.01M447.0,66.2h0.01M443.3,61.9h0.01M444.9,62.9h0.01M448.2,60.8h0.01M445.3,65.7h0.01M442.3,64.3h0.01M443.8,66.7h0.01M443.4,65.7h0.01M442.8,59.4h0.01M444.7,69.4h0.01M445.4,62.4h0.01M449.4,57.1h0.01M442.2,67.0h0.01M447.2,61.1h0.01M439.1,69.4h0.01M446.1,61.3h0.01" stroke="#444" stroke-width="0.76" stroke-linecap="round" opacity="0.85" fill="none"/>
<path d="M443.6,71.2h0.01M431.7,69.5h0.01M452.0,51.8h0.01M451.6,53.9h0.01M449.2,69.0h0.01M455.9,63.5h0.01M443.1,72.1h0.01M443.5,59.5h0.01M443.5,64.1h0.01M439.4,67.0h0.01M447.2,66.1h0.01M453.0,64.8h0.01M451.7,62.8h0.01M451.8,52.8h0.01M446.2,64.0h0.01M444.0,60.3h0.01M444.8,59.7h0.01M436.5,58.4h0.01M443.6,60.8h0.01M440.6,62.9h0.01M448.9,64.2h0.01M440.4,73.6h0.01M447.6,72.4h0.01M450.6,64.1h0.01M442.4,72.4h0.01M442.8,63.5h0.01M446.0,68.0h0.01M442.0,71.3h0.01M442.9,69.7h0.01M448.5,70.7h0.01M450.3,58.0h0.01M440.4,59.3h0.01M444.3,75.7h0.01M439.1,65.6h0.01M442.6,59.1h0.01M442.5,69.4h0.01M443.8,73.2h0.01M439.1,69.9h0.01M448.9,66.6h0.01M448.1,61.7h0.01M441.0,61.0h0.01M437.0,83.8h0.01M439.9,75.6h0.01M445.3,67.3h0.01M449.6,60.6h0.01M448.3,68.6h0.01M437.3,67.3h0.01M446.6,68.7h0.01M452.6,64.0h0.01M445.9,70.7h0.01M438.9,72.1h0.01M441.1,54.5h0.01M449.2,58.2h0.01M447.5,53.7h0.01M447.4,57.4h0.01M449.3,55.0h0.01M447.4,63.7h0.01M445.4,64.6h0.01M448.0,56.2h0.01M433.8,62.2h0.01M441.8,60.8h0.01M450.5,52.1h0.01M442.8,60.0h0.01M439.8,66.0h0.01M445.9,59.3h0.01M439.3,69.3h0.01M441.1,68.2h0.01M450.4,52.7h0.01M440.3,63.8h0.01M445.1,70.7h0.01M446.6,72.9h0.01M443.8,63.1h0.01M449.1,63.0h0.01M452.5,55.5h0.01M448.2,64.6h0.01M434.7,69.3h0.01M446.3,65.5h0.01M441.2,60.6h0.01M453.1,61.2h0.01M431.5,55.2h0.01M440.0,62.7h0.01M444.9,58.4h0.01M439.4,71.1h0.01M435.2,76.5h0.01M444.6,57.0h0.01M447.4,69.7h0.01M439.1,68.8h0.01M438.7,56.6h0.01M450.4,64.6h0.01M438.4,67.0h0.01M449.0,65.9h0.01M437.8,60.6h0.01M445.4,70.7h0.01M453.5,65.4h0.01M443.0,64.2h0.01M451.9,60.0h0.01M455.7,47.9h0.01M449.7,61.4h0.01M445.7,70.2h0.01M440.0,63.0h0.01M445.0,69.3h0.01M442.8,57.2h0.01M432.0,79.9h0.01M444.6,63.3h0.01M436.8,69.5h0.01M440.1,74.1h0.01M448.7,66.1h0.01M450.2,58.3h0.01M444.6,60.7h0.01M439.5,63.6h0.01" stroke="#888" stroke-width="0.6" stroke-linecap="round" opacity="0.7" fill="none"/>
<path d="M427.1,62.2h0.01M406.3,66.5h0.01M421.2,61.0h0.01M429.8,59.1h0.01M426.9,58.6h0.01M430.2,58.9h0.01M415.7,63.5h0.01M417.9,60.9h0.01M427.9,59.2h0.01M427.1,57.8h0.01M425.2,58.5h0.01M429.8,59.7h0.01M438.4,57.3h0.01M421.8,60.7h0.01M421.6,62.3h0.01M439.4,55.9h0.01M412.9,62.8h0.01M419.6,63.5h0.01M427.2,60.0h0.01M437.2,53.8h0.01M423.2,64.8h0.01M428.5,57.4h0.01M413.7,61.9h0.01M412.3,65.6h0.01M427.9,61.0h0.01M425.7,58.7h0.01M423.8,64.5h0.01M416.5,64.1h0.01M427.6,60.5h0.01M424.9,61.3h0.01M431.8,57.3h0.01M424.1,60.3h0.01M421.0,61.5h0.01M425.3,60.6h0.01M435.9,58.4h0.01" stroke="#999" stroke-width="0.6" stroke-linecap="round" opacity="0.7" fill="none"/>
<path d="M422.9,62.4h0.01M428.1,63.0h0.01M426.2,61.1h0.01M422.7,56.9h0.01M432.1,65.2h0.01M430.6,61.7h0.01M427.9,58.2h0.01M413.5,62.7h0.01M427.4,57.8h0.01M419.2,65.1h0.01M413.4,67.0h0.01M430.5,69.5h0.01" stroke="#aaa" stroke-width="0.6" stroke-linecap="round" opacity="0.7" fill="none"/>
</g>
<rect x="322.70" y="13.10" width="79.80" height="79.70" fill="none" stroke="#4a4a4a" stroke-width="0.9" />
<line x1="322.7" y1="13.1" x2="322.7" y2="92.7" stroke="#222" stroke-width="1.0" />
<line x1="322.7" y1="92.7" x2="402.5" y2="92.7" stroke="#333" stroke-width="1.0" />
<line x1="323.3" y1="14" x2="323.3" y2="92.7" stroke="#333" stroke-width="1.6" stroke-dasharray="0.5 1.7"/>
<line x1="322.7" y1="92.2" x2="401.5" y2="92.2" stroke="#333" stroke-width="1.6" stroke-dasharray="0.5 1.9"/>
<line x1="322.7" y1="27.46785714285714" x2="324.5" y2="27.46785714285714" stroke="#222" stroke-width="0.6" />
<line x1="336.95" y1="92.7" x2="336.95" y2="90.9" stroke="#222" stroke-width="0.6" />
<line x1="322.7" y1="41.73571428571429" x2="324.5" y2="41.73571428571429" stroke="#222" stroke-width="0.6" />
<line x1="351.2" y1="92.7" x2="351.2" y2="90.9" stroke="#222" stroke-width="0.6" />
<line x1="322.7" y1="56.00357142857143" x2="324.5" y2="56.00357142857143" stroke="#222" stroke-width="0.6" />
<line x1="365.45" y1="92.7" x2="365.45" y2="90.9" stroke="#222" stroke-width="0.6" />
<line x1="322.7" y1="70.27142857142857" x2="324.5" y2="70.27142857142857" stroke="#222" stroke-width="0.6" />
<line x1="379.7" y1="92.7" x2="379.7" y2="90.9" stroke="#222" stroke-width="0.6" />
<line x1="322.7" y1="84.53928571428573" x2="324.5" y2="84.53928571428573" stroke="#222" stroke-width="0.6" />
<line x1="393.95" y1="92.7" x2="393.95" y2="90.9" stroke="#222" stroke-width="0.6" />
<rect x="405.60" y="13.10" width="79.60" height="79.70" fill="none" stroke="#4a4a4a" stroke-width="0.9" />
<line x1="405.6" y1="13.1" x2="405.6" y2="92.7" stroke="#222" stroke-width="1.0" />
<line x1="405.6" y1="92.7" x2="485.2" y2="92.7" stroke="#333" stroke-width="1.0" />
<line x1="406.20000000000005" y1="14" x2="406.20000000000005" y2="92.7" stroke="#333" stroke-width="1.6" stroke-dasharray="0.5 1.7"/>
<line x1="405.6" y1="92.2" x2="484.2" y2="92.2" stroke="#333" stroke-width="1.6" stroke-dasharray="0.5 1.9"/>
<line x1="405.6" y1="27.46785714285714" x2="407.40000000000003" y2="27.46785714285714" stroke="#222" stroke-width="0.6" />
<line x1="419.81428571428575" y1="92.7" x2="419.81428571428575" y2="90.9" stroke="#222" stroke-width="0.6" />
<line x1="405.6" y1="41.73571428571429" x2="407.40000000000003" y2="41.73571428571429" stroke="#222" stroke-width="0.6" />
<line x1="434.02857142857147" y1="92.7" x2="434.02857142857147" y2="90.9" stroke="#222" stroke-width="0.6" />
<line x1="405.6" y1="56.00357142857143" x2="407.40000000000003" y2="56.00357142857143" stroke="#222" stroke-width="0.6" />
<line x1="448.24285714285713" y1="92.7" x2="448.24285714285713" y2="90.9" stroke="#222" stroke-width="0.6" />
<line x1="405.6" y1="70.27142857142857" x2="407.40000000000003" y2="70.27142857142857" stroke="#222" stroke-width="0.6" />
<line x1="462.45714285714286" y1="92.7" x2="462.45714285714286" y2="90.9" stroke="#222" stroke-width="0.6" />
<line x1="405.6" y1="84.53928571428573" x2="407.40000000000003" y2="84.53928571428573" stroke="#222" stroke-width="0.6" />
<line x1="476.6714285714286" y1="92.7" x2="476.6714285714286" y2="90.9" stroke="#222" stroke-width="0.6" />
<rect x="357.80" y="24.00" width="24.40" height="26.40" fill="none" stroke="#8a8a8a" stroke-width="0.5" />
<rect x="330.00" y="47.40" width="26.40" height="22.90" fill="none" stroke="#8a8a8a" stroke-width="0.5" />
<rect x="358.40" y="50.40" width="11.70" height="32.20" fill="none" stroke="#8a8a8a" stroke-width="0.5" />
<rect x="370.10" y="50.40" width="8.20" height="19.30" fill="none" stroke="#8a8a8a" stroke-width="0.5" />
<rect x="440.40" y="23.40" width="24.30" height="26.40" fill="none" stroke="#8a8a8a" stroke-width="0.5" />
<rect x="412.80" y="46.90" width="26.40" height="22.80" fill="none" stroke="#8a8a8a" stroke-width="0.5" />
<rect x="441.20" y="50.40" width="11.80" height="32.20" fill="none" stroke="#8a8a8a" stroke-width="0.5" />
<rect x="453.00" y="50.40" width="8.20" height="19.00" fill="none" stroke="#8a8a8a" stroke-width="0.5" />
<text x="371" y="19.7" font-size="7" font-weight="bold" text-anchor="middle" fill="#111" stroke="#111" stroke-width="0.28" >13.3%</text>
<text x="343.2" y="43.3" font-size="7" font-weight="bold" text-anchor="middle" fill="#111" stroke="#111" stroke-width="0.28" >1.04%</text>
<text x="380.6" y="63.8" font-size="7" font-weight="bold" text-anchor="start" fill="#111" stroke="#111" stroke-width="0.28" >6.85%</text>
<text x="370.4" y="91.1" font-size="7" font-weight="bold" text-anchor="middle" fill="#111" stroke="#111" stroke-width="0.28" >77.6%</text>
<text x="453.6" y="19.6" font-size="7" font-weight="bold" text-anchor="middle" fill="#111" stroke="#111" stroke-width="0.28" >25.8%</text>
<text x="426.5" y="43.3" font-size="7" font-weight="bold" text-anchor="middle" fill="#111" stroke="#111" stroke-width="0.28" >2.90%</text>
<text x="459.7" y="63.2" font-size="7" font-weight="bold" text-anchor="start" fill="#111" stroke="#111" stroke-width="0.28" >0.776%</text>
<text x="453" y="91" font-size="7" font-weight="bold" text-anchor="middle" fill="#111" stroke="#111" stroke-width="0.28" >68.2%</text>
<text x="318.4" y="81.5" font-size="5.0" font-weight="bold" text-anchor="middle" fill="#111" stroke="#111" stroke-width="0.20" transform="rotate(-90 318.4 81.5)" >BrdU</text>
<line x1="318.6" y1="74.5" x2="318.6" y2="23.5" stroke="#111" stroke-width="1.25" />
<polyline points="316.30,26.20 318.6,23 320.90,26.20" fill="none" stroke="#111" stroke-width="1.25" stroke-linejoin="miter"/>
<text x="324.2" y="100" font-size="5.5" font-weight="bold" text-anchor="start" fill="#111" stroke="#111" stroke-width="0.22" >7AAD</text>
<line x1="344.5" y1="97.7" x2="468.3" y2="97.7" stroke="#111" stroke-width="1.25" />
<polyline points="465.60,95.40 468.8,97.7 465.60,100.00" fill="none" stroke="#111" stroke-width="1.25" stroke-linejoin="miter"/>
<text x="280.6" y="142.9" font-size="10.5" font-weight="bold" text-anchor="start" fill="#111" stroke="#111" stroke-width="0.42" >E</text>
<text x="325.6" y="148.5" font-size="6.4" font-weight="bold" text-anchor="start" fill="#111" stroke="#111" stroke-width="0.26" textLength="20.2" lengthAdjust="spacingAndGlyphs" >CD150</text>
<text x="346" y="146.3" font-size="4.2" font-weight="bold" text-anchor="start" fill="#111" stroke="#111" stroke-width="0.20" >+</text>
<text x="348.5" y="148.5" font-size="6.4" font-weight="bold" text-anchor="start" fill="#111" stroke="#111" stroke-width="0.26" textLength="16.6" lengthAdjust="spacingAndGlyphs" >CD48</text>
<text x="365.9" y="146" font-size="4.4" font-weight="bold" text-anchor="start" fill="#111" stroke="#111" stroke-width="0.20" >-</text>
<text x="367.7" y="148.5" font-size="6.4" font-weight="bold" text-anchor="start" fill="#111" stroke="#111" stroke-width="0.26" textLength="11.5" lengthAdjust="spacingAndGlyphs" >LSK</text>
<text x="446.7" y="147.7" font-size="6.4" font-weight="bold" text-anchor="start" fill="#111" stroke="#111" stroke-width="0.26" textLength="16.3" lengthAdjust="spacingAndGlyphs" >CD34</text>
<text x="463.2" y="145.2" font-size="4.4" font-weight="bold" text-anchor="start" fill="#111" stroke="#111" stroke-width="0.20" >-</text>
<text x="465" y="147.7" font-size="6.4" font-weight="bold" text-anchor="start" fill="#111" stroke="#111" stroke-width="0.26" textLength="10.8" lengthAdjust="spacingAndGlyphs" >Flt3</text>
<text x="476" y="145.2" font-size="4.4" font-weight="bold" text-anchor="start" fill="#111" stroke="#111" stroke-width="0.20" >-</text>
<text x="478" y="147.7" font-size="6.4" font-weight="bold" text-anchor="start" fill="#111" stroke="#111" stroke-width="0.26" textLength="12.5" lengthAdjust="spacingAndGlyphs" >LSK</text>
<line x1="298.8" y1="154.6" x2="298.8" y2="222.0" stroke="#111" stroke-width="1.15" />
<line x1="296.1" y1="155" x2="298.8" y2="155" stroke="#111" stroke-width="1.035" />
<text x="295.3" y="156.584" font-size="4.4" font-weight="bold" text-anchor="end" fill="#111" stroke="#111" stroke-width="0.20" >100</text>
<line x1="296.1" y1="168.3" x2="298.8" y2="168.3" stroke="#111" stroke-width="1.035" />
<text x="295.3" y="169.88400000000001" font-size="4.4" font-weight="bold" text-anchor="end" fill="#111" stroke="#111" stroke-width="0.20" >80</text>
<line x1="296.1" y1="181.7" x2="298.8" y2="181.7" stroke="#111" stroke-width="1.035" />
<text x="295.3" y="183.284" font-size="4.4" font-weight="bold" text-anchor="end" fill="#111" stroke="#111" stroke-width="0.20" >60</text>
<line x1="296.1" y1="195" x2="298.8" y2="195" stroke="#111" stroke-width="1.035" />
<text x="295.3" y="196.584" font-size="4.4" font-weight="bold" text-anchor="end" fill="#111" stroke="#111" stroke-width="0.20" >40</text>
<line x1="296.1" y1="208.3" x2="298.8" y2="208.3" stroke="#111" stroke-width="1.035" />
<text x="295.3" y="209.88400000000001" font-size="4.4" font-weight="bold" text-anchor="end" fill="#111" stroke="#111" stroke-width="0.20" >20</text>
<line x1="296.1" y1="221.6" x2="298.8" y2="221.6" stroke="#111" stroke-width="1.035" />
<text x="295.3" y="223.184" font-size="4.4" font-weight="bold" text-anchor="end" fill="#111" stroke="#111" stroke-width="0.20" >0</text>
<line x1="298.2" y1="221.7" x2="396.8" y2="221.7" stroke="#111" stroke-width="1.15" />
<rect x="305.00" y="173.40" width="8.50" height="48.30" fill="#fff" stroke="#111" stroke-width="1.0" />
<line x1="309.25" y1="172.9" x2="309.25" y2="163.3" stroke="#111" stroke-width="1.15" />
<line x1="306.95" y1="163.8" x2="311.55" y2="163.8" stroke="#111" stroke-width="1.2" />
<rect x="317.70" y="186.80" width="8.20" height="34.90" fill="#111" stroke="#111" stroke-width="1.0" />
<line x1="321.79999999999995" y1="186.3" x2="321.79999999999995" y2="178.2" stroke="#111" stroke-width="1.15" />
<line x1="319.49999999999994" y1="178.7" x2="324.09999999999997" y2="178.7" stroke="#111" stroke-width="1.2" />
<rect x="338.40" y="215.70" width="8.00" height="6.00" fill="#fff" stroke="#111" stroke-width="1.0" />
<line x1="342.4" y1="215.2" x2="342.4" y2="210.8" stroke="#111" stroke-width="1.15" />
<line x1="340.09999999999997" y1="211.3" x2="344.7" y2="211.3" stroke="#111" stroke-width="1.2" />
<rect x="350.80" y="212.90" width="8.00" height="8.80" fill="#111" stroke="#111" stroke-width="1.0" />
<rect x="371.80" y="219.00" width="7.90" height="2.70" fill="#fff" stroke="#111" stroke-width="1.0" />
<rect x="384.00" y="218.80" width="8.00" height="2.90" fill="#111" stroke="#111" stroke-width="1.0" />
<line x1="388.0" y1="218.3" x2="388.0" y2="216.2" stroke="#111" stroke-width="1.15" />
<line x1="385.7" y1="216.7" x2="390.3" y2="216.7" stroke="#111" stroke-width="1.2" />
<text x="353.7" y="193.8" font-size="6.2" font-weight="bold" text-anchor="middle" fill="#111" stroke="#111" stroke-width="0.25" >*</text>
<rect x="354.80" y="198.80" width="5.40" height="2.50" fill="#fff" stroke="#111" stroke-width="0.9" />
<rect x="354.80" y="203.90" width="5.40" height="2.50" fill="#111" stroke="#111" stroke-width="0.9" />
<text x="363.3" y="201.7" font-size="4.1" font-weight="bold" text-anchor="start" fill="#111" stroke="#111" stroke-width="0.20" >WT</text>
<text x="363.3" y="206.9" font-size="4.1" font-weight="bold" text-anchor="start" fill="#111" stroke="#111" stroke-width="0.20" font-style="italic" textLength="11.8" lengthAdjust="spacingAndGlyphs" >Mysm1</text>
<text x="375.3" y="205.26000000000002" font-size="2.8699999999999997" font-weight="bold" text-anchor="start" fill="#111" stroke="#111" stroke-width="0.20" font-style="italic" textLength="3.6" lengthAdjust="spacingAndGlyphs" >-/-</text>
<text x="314.4" y="227.9" font-size="5.3" font-weight="bold" text-anchor="middle" fill="#111" stroke="#111" stroke-width="0.21" >G0/G1</text>
<text x="348.5" y="227.9" font-size="5.3" font-weight="bold" text-anchor="middle" fill="#111" stroke="#111" stroke-width="0.21" >S</text>
<text x="381.7" y="227.9" font-size="5.3" font-weight="bold" text-anchor="middle" fill="#111" stroke="#111" stroke-width="0.21" >G2/M</text>
<text x="285.1" y="187.7" font-size="5.6" font-weight="bold" text-anchor="middle" fill="#111" stroke="#111" stroke-width="0.22" transform="rotate(-90 285.1 187.7)" >Percentage (%)</text>
<line x1="315.5" y1="221.7" x2="315.5" y2="223.4" stroke="#111" stroke-width="0.9" />
<line x1="348.6" y1="221.7" x2="348.6" y2="223.4" stroke="#111" stroke-width="0.9" />
<line x1="381.9" y1="221.7" x2="381.9" y2="223.4" stroke="#111" stroke-width="0.9" />
<line x1="420.6" y1="154.9" x2="420.6" y2="221.4" stroke="#111" stroke-width="1.15" />
<line x1="417.90000000000003" y1="155.3" x2="420.6" y2="155.3" stroke="#111" stroke-width="1.035" />
<text x="417.1" y="156.88400000000001" font-size="4.4" font-weight="bold" text-anchor="end" fill="#111" stroke="#111" stroke-width="0.20" >100</text>
<line x1="417.90000000000003" y1="168.4" x2="420.6" y2="168.4" stroke="#111" stroke-width="1.035" />
<text x="417.1" y="169.984" font-size="4.4" font-weight="bold" text-anchor="end" fill="#111" stroke="#111" stroke-width="0.20" >80</text>
<line x1="417.90000000000003" y1="181.6" x2="420.6" y2="181.6" stroke="#111" stroke-width="1.035" />
<text x="417.1" y="183.184" font-size="4.4" font-weight="bold" text-anchor="end" fill="#111" stroke="#111" stroke-width="0.20" >60</text>
<line x1="417.90000000000003" y1="194.7" x2="420.6" y2="194.7" stroke="#111" stroke-width="1.035" />
<text x="417.1" y="196.284" font-size="4.4" font-weight="bold" text-anchor="end" fill="#111" stroke="#111" stroke-width="0.20" >40</text>
<line x1="417.90000000000003" y1="207.9" x2="420.6" y2="207.9" stroke="#111" stroke-width="1.035" />
<text x="417.1" y="209.484" font-size="4.4" font-weight="bold" text-anchor="end" fill="#111" stroke="#111" stroke-width="0.20" >20</text>
<line x1="417.90000000000003" y1="221" x2="420.6" y2="221" stroke="#111" stroke-width="1.035" />
<text x="417.1" y="222.584" font-size="4.4" font-weight="bold" text-anchor="end" fill="#111" stroke="#111" stroke-width="0.20" >0</text>
<line x1="420" y1="220.9" x2="520" y2="220.9" stroke="#111" stroke-width="1.15" />
<rect x="427.10" y="163.70" width="8.30" height="57.30" fill="#fff" stroke="#111" stroke-width="1.0" />
<line x1="431.25" y1="163.2" x2="431.25" y2="161.8" stroke="#111" stroke-width="1.15" />
<line x1="428.95" y1="162.3" x2="433.55" y2="162.3" stroke="#111" stroke-width="1.2" />
<rect x="439.00" y="172.30" width="8.50" height="48.70" fill="#111" stroke="#111" stroke-width="1.0" />
<line x1="443.25" y1="171.8" x2="443.25" y2="166.8" stroke="#111" stroke-width="1.15" />
<line x1="440.95" y1="167.3" x2="445.55" y2="167.3" stroke="#111" stroke-width="1.2" />
<rect x="459.60" y="218.30" width="8.60" height="2.70" fill="#fff" stroke="#111" stroke-width="1.0" />
<rect x="471.70" y="206.90" width="8.50" height="14.10" fill="#111" stroke="#111" stroke-width="1.0" />
<line x1="475.95" y1="206.4" x2="475.95" y2="202.2" stroke="#111" stroke-width="1.15" />
<line x1="473.65" y1="202.7" x2="478.25" y2="202.7" stroke="#111" stroke-width="1.2" />
<rect x="492.60" y="218.80" width="8.10" height="2.20" fill="#fff" stroke="#111" stroke-width="1.0" />
<rect x="504.30" y="220.10" width="8.40" height="0.90" fill="#111" stroke="#111" stroke-width="1.0" />
<text x="476" y="201.4" font-size="6.2" font-weight="bold" text-anchor="middle" fill="#111" stroke="#111" stroke-width="0.25" >*</text>
<text x="436.3" y="227.3" font-size="5.3" font-weight="bold" text-anchor="middle" fill="#111" stroke="#111" stroke-width="0.21" >G0/G1</text>
<text x="468.8" y="227.3" font-size="5.3" font-weight="bold" text-anchor="middle" fill="#111" stroke="#111" stroke-width="0.21" >S</text>
<text x="502" y="227.3" font-size="5.3" font-weight="bold" text-anchor="middle" fill="#111" stroke="#111" stroke-width="0.21" >G2/M</text>
<text x="407.2" y="187.2" font-size="5.6" font-weight="bold" text-anchor="middle" fill="#111" stroke="#111" stroke-width="0.22" transform="rotate(-90 407.2 187.2)" >Percentage (%)</text>
<line x1="436.8" y1="221" x2="436.8" y2="222.7" stroke="#111" stroke-width="0.9" />
<line x1="469.9" y1="221" x2="469.9" y2="222.7" stroke="#111" stroke-width="0.9" />
<line x1="502.7" y1="221" x2="502.7" y2="222.7" stroke="#111" stroke-width="0.9" />
<text x="280.6" y="261.3" font-size="10.5" font-weight="bold" text-anchor="start" fill="#111" stroke="#111" stroke-width="0.42" >F</text>
<line x1="336.3" y1="255.70000000000002" x2="336.3" y2="349.9" stroke="#111" stroke-width="1.25" />
<line x1="333.0" y1="255.9" x2="336.3" y2="255.9" stroke="#111" stroke-width="1.125" />
<text x="332.2" y="258.132" font-size="6.2" font-weight="bold" text-anchor="end" fill="#111" stroke="#111" stroke-width="0.25" >4</text>
<line x1="333.0" y1="279.3" x2="336.3" y2="279.3" stroke="#111" stroke-width="1.125" />
<text x="332.2" y="281.53200000000004" font-size="6.2" font-weight="bold" text-anchor="end" fill="#111" stroke="#111" stroke-width="0.25" >3</text>
<line x1="333.0" y1="302.7" x2="336.3" y2="302.7" stroke="#111" stroke-width="1.125" />
<text x="332.2" y="304.932" font-size="6.2" font-weight="bold" text-anchor="end" fill="#111" stroke="#111" stroke-width="0.25" >2</text>
<line x1="333.0" y1="326.1" x2="336.3" y2="326.1" stroke="#111" stroke-width="1.125" />
<text x="332.2" y="328.33200000000005" font-size="6.2" font-weight="bold" text-anchor="end" fill="#111" stroke="#111" stroke-width="0.25" >1</text>
<line x1="333.0" y1="349.5" x2="336.3" y2="349.5" stroke="#111" stroke-width="1.125" />
<text x="332.2" y="351.732" font-size="6.2" font-weight="bold" text-anchor="end" fill="#111" stroke="#111" stroke-width="0.25" >0</text>
<line x1="335.7" y1="349.5" x2="481.8" y2="349.5" stroke="#111" stroke-width="1.25" />
<rect x="338.78" y="326.88" width="3.15" height="22.63" fill="#fff" stroke="#111" stroke-width="0.95" />
<line x1="340.35" y1="326.4" x2="340.35" y2="323.025" stroke="#111" stroke-width="1.0924999999999998" />
<line x1="338.95000000000005" y1="323.5" x2="341.75" y2="323.5" stroke="#111" stroke-width="1.14" />
<rect x="343.38" y="289.98" width="3.55" height="59.52" fill="#111" stroke="#111" stroke-width="0.95" />
<line x1="345.15000000000003" y1="289.5" x2="345.15000000000003" y2="273.825" stroke="#111" stroke-width="1.0924999999999998" />
<line x1="343.75000000000006" y1="274.3" x2="346.55" y2="274.3" stroke="#111" stroke-width="1.14" />
<text x="345.0" y="353.2" font-size="5.6" font-weight="bold" text-anchor="end" fill="#111" stroke="#111" stroke-width="0.22" transform="rotate(-56 345.0 353.2)" >Cyclin D1</text>
<rect x="352.00" y="326.88" width="3.15" height="22.63" fill="#fff" stroke="#111" stroke-width="0.95" />
<line x1="353.57000000000005" y1="326.4" x2="353.57000000000005" y2="320.025" stroke="#111" stroke-width="1.0924999999999998" />
<line x1="352.1700000000001" y1="320.5" x2="354.97" y2="320.5" stroke="#111" stroke-width="1.14" />
<rect x="356.60" y="330.38" width="3.55" height="19.13" fill="#111" stroke="#111" stroke-width="0.95" />
<line x1="358.37000000000006" y1="329.9" x2="358.37000000000006" y2="328.525" stroke="#111" stroke-width="1.0924999999999998" />
<line x1="356.9700000000001" y1="329" x2="359.77000000000004" y2="329" stroke="#111" stroke-width="1.14" />
<text x="358.22" y="353.2" font-size="5.6" font-weight="bold" text-anchor="end" fill="#111" stroke="#111" stroke-width="0.22" transform="rotate(-56 358.22 353.2)" >Cyclin D2</text>
<rect x="365.22" y="326.88" width="3.15" height="22.63" fill="#fff" stroke="#111" stroke-width="0.95" />
<line x1="366.79" y1="326.4" x2="366.79" y2="323.525" stroke="#111" stroke-width="1.0924999999999998" />
<line x1="365.39000000000004" y1="324" x2="368.19" y2="324" stroke="#111" stroke-width="1.14" />
<rect x="369.82" y="323.98" width="3.55" height="25.52" fill="#111" stroke="#111" stroke-width="0.95" />
<line x1="371.59000000000003" y1="323.5" x2="371.59000000000003" y2="320.025" stroke="#111" stroke-width="1.0924999999999998" />
<line x1="370.19000000000005" y1="320.5" x2="372.99" y2="320.5" stroke="#111" stroke-width="1.14" />
<text x="371.44" y="353.2" font-size="5.6" font-weight="bold" text-anchor="end" fill="#111" stroke="#111" stroke-width="0.22" transform="rotate(-56 371.44 353.2)" >Cyclin E1</text>
<rect x="378.44" y="326.88" width="3.15" height="22.63" fill="#fff" stroke="#111" stroke-width="0.95" />
<line x1="380.01000000000005" y1="326.4" x2="380.01000000000005" y2="321.22499999999997" stroke="#111" stroke-width="1.0924999999999998" />
<line x1="378.61000000000007" y1="321.7" x2="381.41" y2="321.7" stroke="#111" stroke-width="1.14" />
<rect x="383.04" y="272.48" width="3.55" height="77.03" fill="#111" stroke="#111" stroke-width="0.95" />
<line x1="384.81000000000006" y1="272" x2="384.81000000000006" y2="263.525" stroke="#111" stroke-width="1.0924999999999998" />
<line x1="383.4100000000001" y1="264" x2="386.21000000000004" y2="264" stroke="#111" stroke-width="1.14" />
<text x="384.66" y="353.2" font-size="5.6" font-weight="bold" text-anchor="end" fill="#111" stroke="#111" stroke-width="0.22" transform="rotate(-56 384.66 353.2)" >Cyclin E2</text>
<rect x="391.66" y="326.88" width="3.15" height="22.63" fill="#fff" stroke="#111" stroke-width="0.95" />
<line x1="393.23" y1="326.4" x2="393.23" y2="323.525" stroke="#111" stroke-width="1.0924999999999998" />
<line x1="391.83000000000004" y1="324" x2="394.63" y2="324" stroke="#111" stroke-width="1.14" />
<rect x="396.26" y="325.08" width="3.55" height="24.42" fill="#111" stroke="#111" stroke-width="0.95" />
<line x1="398.03000000000003" y1="324.6" x2="398.03000000000003" y2="319.525" stroke="#111" stroke-width="1.0924999999999998" />
<line x1="396.63000000000005" y1="320" x2="399.43" y2="320" stroke="#111" stroke-width="1.14" />
<text x="397.88" y="353.2" font-size="5.6" font-weight="bold" text-anchor="end" fill="#111" stroke="#111" stroke-width="0.22" transform="rotate(-56 397.88 353.2)" >CDK2</text>
<rect x="404.88" y="326.88" width="3.15" height="22.63" fill="#fff" stroke="#111" stroke-width="0.95" />
<line x1="406.45000000000005" y1="326.4" x2="406.45000000000005" y2="320.025" stroke="#111" stroke-width="1.0924999999999998" />
<line x1="405.05000000000007" y1="320.5" x2="407.85" y2="320.5" stroke="#111" stroke-width="1.14" />
<rect x="409.48" y="329.78" width="3.55" height="19.72" fill="#111" stroke="#111" stroke-width="0.95" />
<line x1="411.25000000000006" y1="329.3" x2="411.25000000000006" y2="324.125" stroke="#111" stroke-width="1.0924999999999998" />
<line x1="409.8500000000001" y1="324.6" x2="412.65000000000003" y2="324.6" stroke="#111" stroke-width="1.14" />
<text x="411.1" y="353.2" font-size="5.6" font-weight="bold" text-anchor="end" fill="#111" stroke="#111" stroke-width="0.22" transform="rotate(-56 411.1 353.2)" >CDK4</text>
<rect x="418.10" y="326.88" width="3.15" height="22.63" fill="#fff" stroke="#111" stroke-width="0.95" />
<line x1="419.67" y1="326.4" x2="419.67" y2="316.22499999999997" stroke="#111" stroke-width="1.0924999999999998" />
<line x1="418.27000000000004" y1="316.7" x2="421.07" y2="316.7" stroke="#111" stroke-width="1.14" />
<rect x="422.70" y="328.38" width="3.55" height="21.13" fill="#111" stroke="#111" stroke-width="0.95" />
<line x1="424.47" y1="327.9" x2="424.47" y2="321.22499999999997" stroke="#111" stroke-width="1.0924999999999998" />
<line x1="423.07000000000005" y1="321.7" x2="425.87" y2="321.7" stroke="#111" stroke-width="1.14" />
<text x="424.32" y="353.2" font-size="5.6" font-weight="bold" text-anchor="end" fill="#111" stroke="#111" stroke-width="0.22" transform="rotate(-56 424.32 353.2)" >CDK6</text>
<rect x="431.32" y="326.88" width="3.15" height="22.63" fill="#fff" stroke="#111" stroke-width="0.95" />
<line x1="432.89000000000004" y1="326.4" x2="432.89000000000004" y2="323.525" stroke="#111" stroke-width="1.0924999999999998" />
<line x1="431.49000000000007" y1="324" x2="434.29" y2="324" stroke="#111" stroke-width="1.14" />
<rect x="435.92" y="333.28" width="3.55" height="16.22" fill="#111" stroke="#111" stroke-width="0.95" />
<line x1="437.69000000000005" y1="332.8" x2="437.69000000000005" y2="324.525" stroke="#111" stroke-width="1.0924999999999998" />
<line x1="436.2900000000001" y1="325" x2="439.09000000000003" y2="325" stroke="#111" stroke-width="1.14" />
<text x="439.54" y="353.2" font-size="5.6" font-weight="bold" text-anchor="end" fill="#111" stroke="#111" stroke-width="0.22" font-style="italic" transform="rotate(-56 439.54 353.2)" >p15</text>
<rect x="444.54" y="326.88" width="3.15" height="22.63" fill="#fff" stroke="#111" stroke-width="0.95" />
<line x1="446.11" y1="326.4" x2="446.11" y2="323.525" stroke="#111" stroke-width="1.0924999999999998" />
<line x1="444.71000000000004" y1="324" x2="447.51" y2="324" stroke="#111" stroke-width="1.14" />
<rect x="449.14" y="334.78" width="3.55" height="14.72" fill="#111" stroke="#111" stroke-width="0.95" />
<line x1="450.91" y1="334.3" x2="450.91" y2="329.525" stroke="#111" stroke-width="1.0924999999999998" />
<line x1="449.51000000000005" y1="330" x2="452.31" y2="330" stroke="#111" stroke-width="1.14" />
<text x="452.76" y="353.2" font-size="5.6" font-weight="bold" text-anchor="end" fill="#111" stroke="#111" stroke-width="0.22" font-style="italic" transform="rotate(-56 452.76 353.2)" >p16</text>
<rect x="457.76" y="326.88" width="3.15" height="22.63" fill="#fff" stroke="#111" stroke-width="0.95" />
<line x1="459.33000000000004" y1="326.4" x2="459.33000000000004" y2="318.525" stroke="#111" stroke-width="1.0924999999999998" />
<line x1="457.93000000000006" y1="319" x2="460.73" y2="319" stroke="#111" stroke-width="1.14" />
<rect x="462.36" y="321.58" width="3.55" height="27.92" fill="#111" stroke="#111" stroke-width="0.95" />
<line x1="464.13000000000005" y1="321.1" x2="464.13000000000005" y2="314.825" stroke="#111" stroke-width="1.0924999999999998" />
<line x1="462.7300000000001" y1="315.3" x2="465.53000000000003" y2="315.3" stroke="#111" stroke-width="1.14" />
<text x="465.98" y="353.2" font-size="5.6" font-weight="bold" text-anchor="end" fill="#111" stroke="#111" stroke-width="0.22" font-style="italic" transform="rotate(-56 465.98 353.2)" >p18</text>
<rect x="470.98" y="326.88" width="3.15" height="22.63" fill="#fff" stroke="#111" stroke-width="0.95" />
<line x1="472.55" y1="326.4" x2="472.55" y2="323.025" stroke="#111" stroke-width="1.0924999999999998" />
<line x1="471.15000000000003" y1="323.5" x2="473.95" y2="323.5" stroke="#111" stroke-width="1.14" />
<rect x="475.58" y="332.48" width="3.55" height="17.02" fill="#111" stroke="#111" stroke-width="0.95" />
<line x1="477.35" y1="332" x2="477.35" y2="322.72499999999997" stroke="#111" stroke-width="1.0924999999999998" />
<line x1="475.95000000000005" y1="323.2" x2="478.75" y2="323.2" stroke="#111" stroke-width="1.14" />
<text x="479.2" y="353.2" font-size="5.6" font-weight="bold" text-anchor="end" fill="#111" stroke="#111" stroke-width="0.22" font-style="italic" transform="rotate(-56 479.2 353.2)" >p19</text>
<polyline points="340.3,321.7 340.3,267.2 345.4,267.2 345.4,272.3" fill="none" stroke="#111" stroke-width="0.9"/>
<text x="342.8" y="266.8" font-size="6.5" font-weight="bold" text-anchor="middle" fill="#111" stroke="#111" stroke-width="0.26" >*</text>
<polyline points="379.8,319.7 379.8,257.3 384.8,257.3 384.8,263.2" fill="none" stroke="#111" stroke-width="0.9"/>
<text x="382.3" y="257" font-size="6.5" font-weight="bold" text-anchor="middle" fill="#111" stroke="#111" stroke-width="0.26" >*</text>
<rect x="434.80" y="266.90" width="8.00" height="3.90" fill="#fff" stroke="#111" stroke-width="1.3" />
<rect x="434.80" y="273.40" width="8.00" height="3.70" fill="#111" stroke="#111" stroke-width="1.3" />
<text x="447" y="270.9" font-size="5.8" font-weight="bold" text-anchor="start" fill="#111" stroke="#111" stroke-width="0.23" >WT</text>
<text x="447" y="279" font-size="5.8" font-weight="bold" text-anchor="start" fill="#111" stroke="#111" stroke-width="0.23" font-style="italic" textLength="18.6" lengthAdjust="spacingAndGlyphs" >Mysm1</text>
<text x="465.8" y="276.68" font-size="4.2" font-weight="bold" text-anchor="start" fill="#111" stroke="#111" stroke-width="0.20" font-style="italic" textLength="5.2" lengthAdjust="spacingAndGlyphs" >-/-</text>
<text x="326.5" y="302.8" font-size="6.5" font-weight="bold" text-anchor="middle" fill="#111" stroke="#111" stroke-width="0.26" transform="rotate(-90 326.5 302.8)" >Gene expression/Gapdh</text>
</svg></body></html>
